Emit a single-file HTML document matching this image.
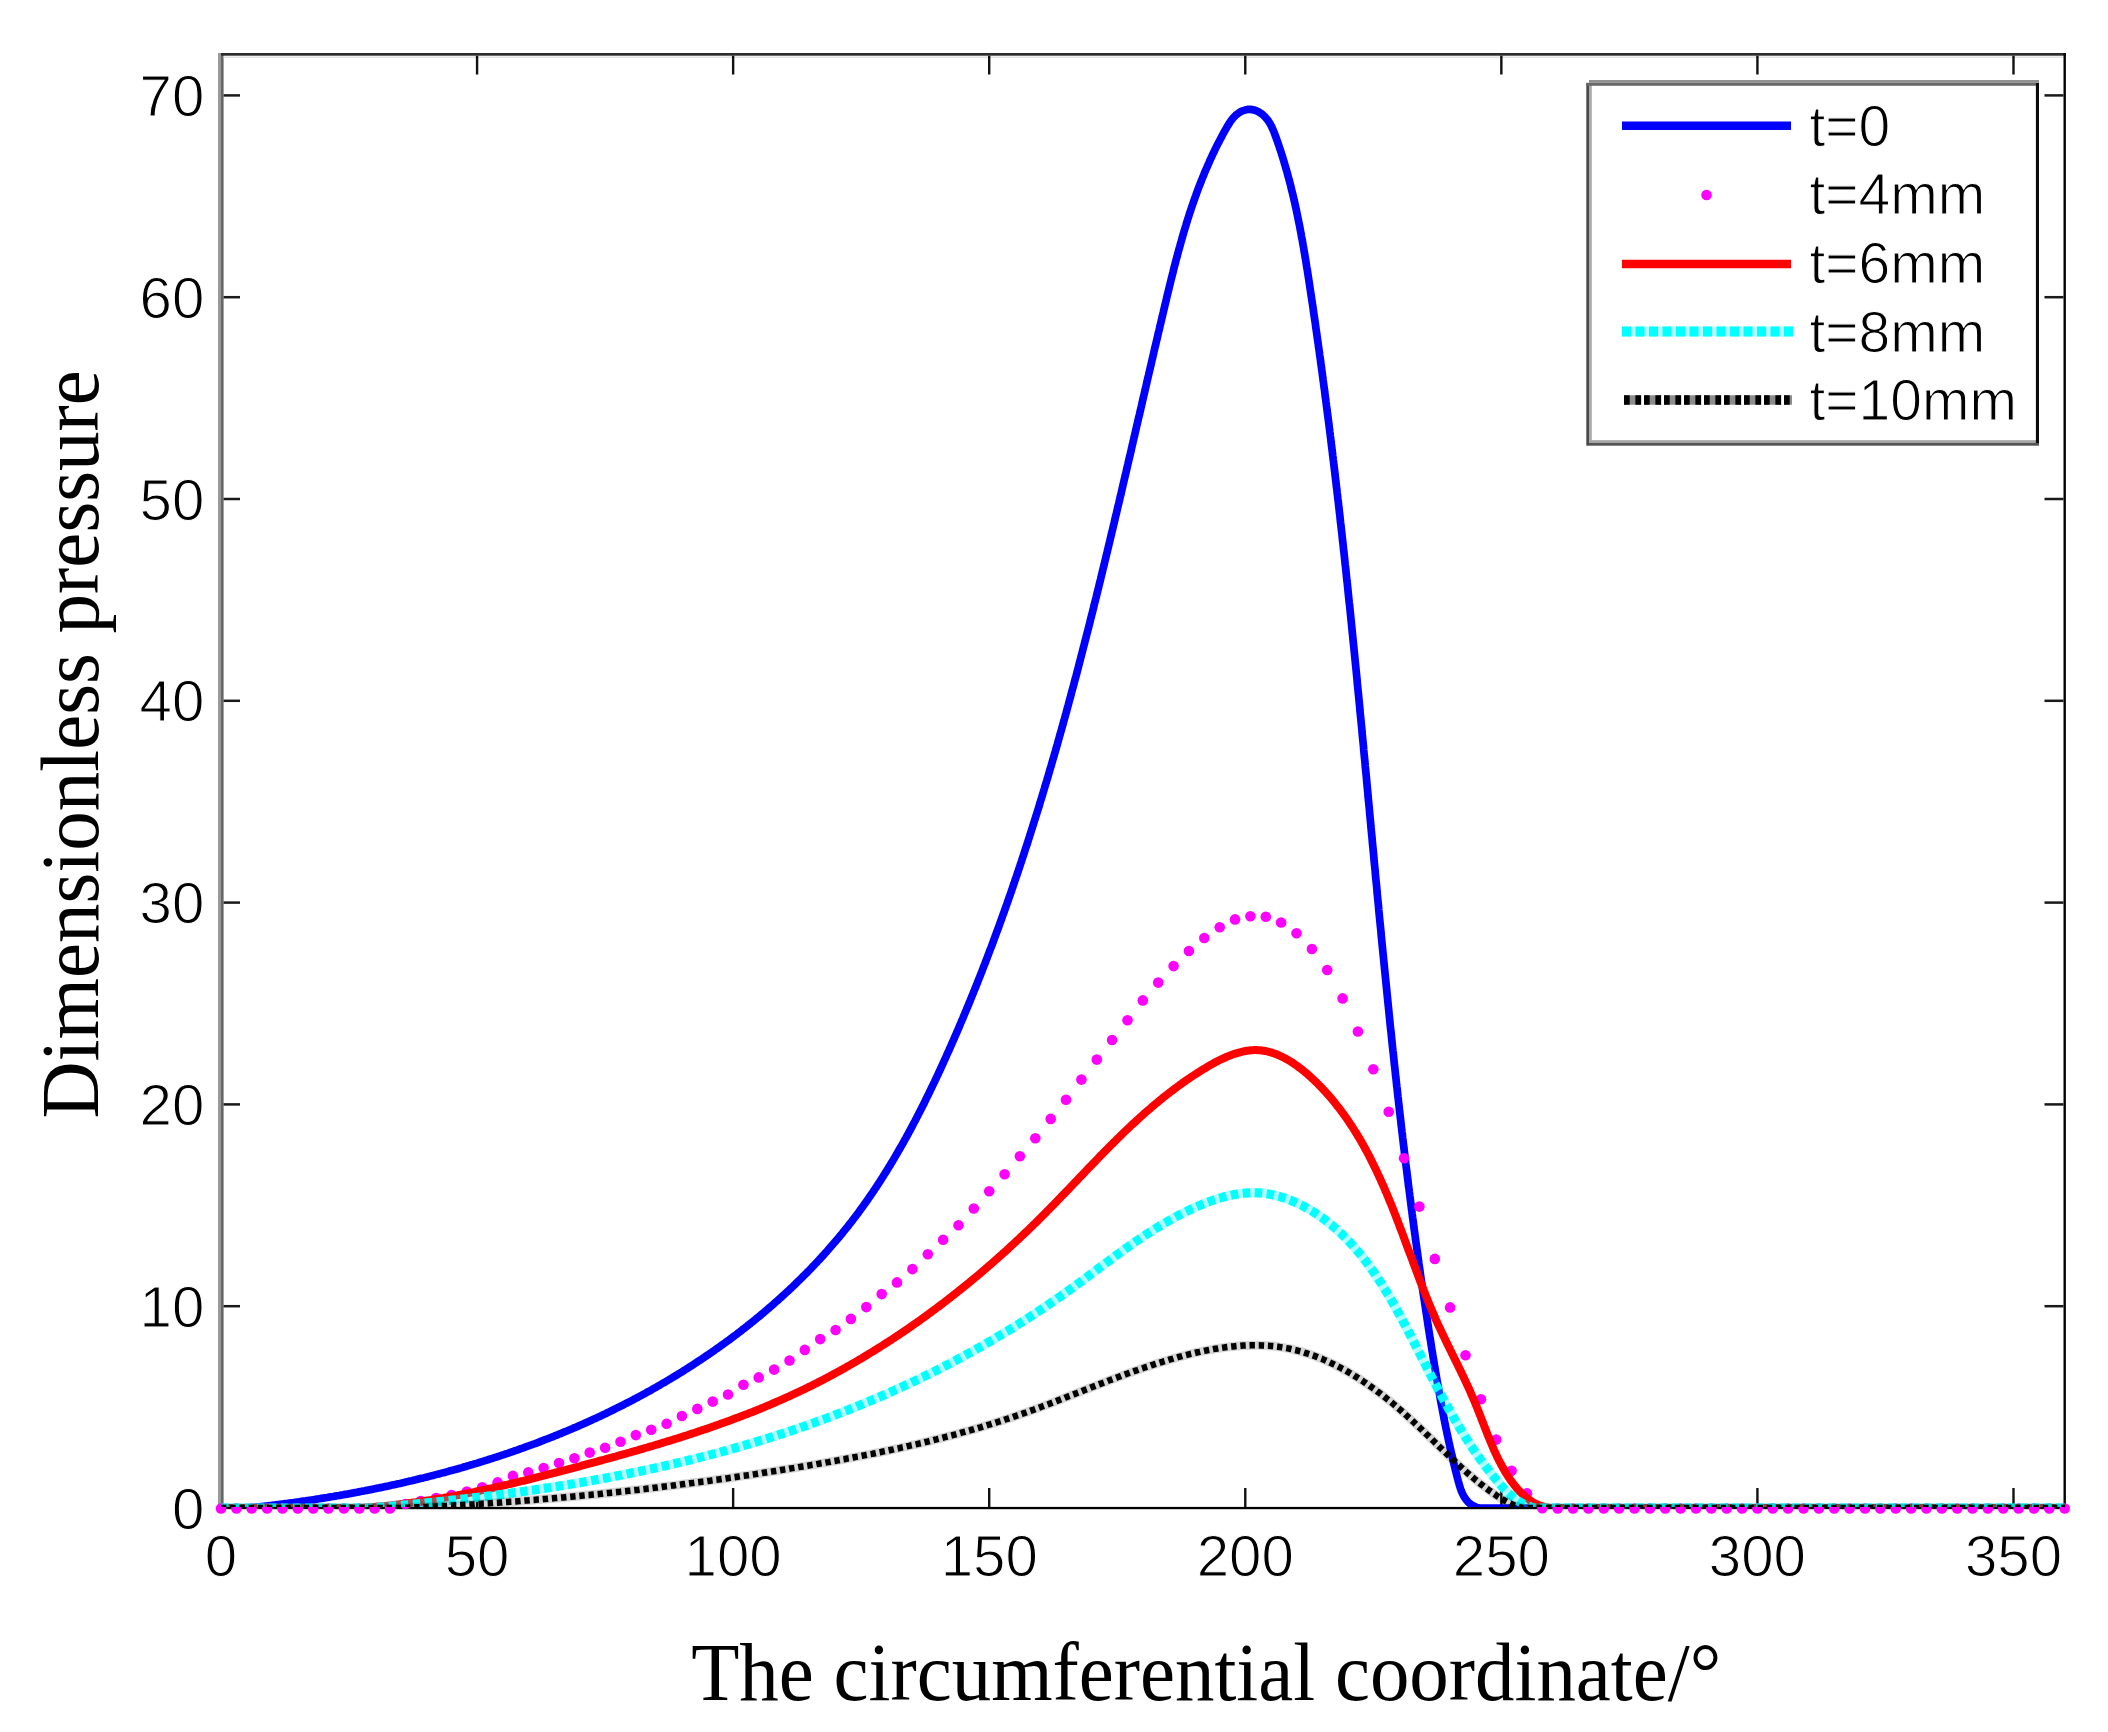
<!DOCTYPE html><html><head><meta charset="utf-8"><style>html,body{margin:0;padding:0;background:#fff;width:2108px;height:1732px;overflow:hidden}svg{display:block}.tk{font-family:"Liberation Sans",Arial,sans-serif;font-size:58.2px;fill:#000;stroke:#fff;stroke-width:1.1px}.lg{font-family:"Liberation Sans",Arial,sans-serif;font-size:57px;fill:#000;stroke:#fff;stroke-width:1.1px}.al{font-family:"Liberation Serif","Times New Roman",serif;font-size:82px;fill:#000}</style></head><body>
<svg xmlns="http://www.w3.org/2000/svg" width="2108" height="1732" viewBox="0 0 2108 1732">
<rect width="2108" height="1732" fill="#fff"/>
<rect x="218" y="53" width="3" height="1455.5" fill="#999"/>
<rect x="221" y="53" width="2.6" height="1455.5" fill="#666"/>
<rect x="221" y="53" width="1845" height="2.7" fill="#2c2c2c"/>
<rect x="223.6" y="56.5" width="1840" height="1.6" fill="#e2e2e2"/>
<rect x="2063.5" y="53" width="2.4" height="1455.5" fill="#000"/>
<rect x="221" y="1506.9" width="1845" height="2.3" fill="#000"/>
<rect x="475.87" y="1488" width="2.4" height="19" fill="#111"/>
<rect x="475.87" y="55.7" width="2.4" height="18.8" fill="#111"/>
<text class="tk" x="477.07" y="1576" text-anchor="middle">50</text>
<rect x="731.94" y="1488" width="2.4" height="19" fill="#111"/>
<rect x="731.94" y="55.7" width="2.4" height="18.8" fill="#111"/>
<text class="tk" x="733.14" y="1576" text-anchor="middle">100</text>
<rect x="988.01" y="1488" width="2.4" height="19" fill="#111"/>
<rect x="988.01" y="55.7" width="2.4" height="18.8" fill="#111"/>
<text class="tk" x="989.21" y="1576" text-anchor="middle">150</text>
<rect x="1244.08" y="1488" width="2.4" height="19" fill="#111"/>
<rect x="1244.08" y="55.7" width="2.4" height="18.8" fill="#111"/>
<text class="tk" x="1245.28" y="1576" text-anchor="middle">200</text>
<rect x="1500.15" y="1488" width="2.4" height="19" fill="#111"/>
<rect x="1500.15" y="55.7" width="2.4" height="18.8" fill="#111"/>
<text class="tk" x="1501.35" y="1576" text-anchor="middle">250</text>
<rect x="1756.22" y="1488" width="2.4" height="19" fill="#111"/>
<rect x="1756.22" y="55.7" width="2.4" height="18.8" fill="#111"/>
<text class="tk" x="1757.42" y="1576" text-anchor="middle">300</text>
<rect x="2012.29" y="1488" width="2.4" height="19" fill="#111"/>
<rect x="2012.29" y="55.7" width="2.4" height="18.8" fill="#111"/>
<text class="tk" x="2013.49" y="1576" text-anchor="middle">350</text>
<text class="tk" x="221.00" y="1576" text-anchor="middle">0</text>
<text class="tk" x="204.3" y="1528.60" text-anchor="end">0</text>
<rect x="223.6" y="1304.95" width="16.4" height="2.5" fill="#1a1a1a"/>
<rect x="2044.5" y="1304.95" width="19" height="2.5" fill="#1a1a1a"/>
<text class="tk" x="204.3" y="1326.80" text-anchor="end">10</text>
<rect x="223.6" y="1103.15" width="16.4" height="2.5" fill="#1a1a1a"/>
<rect x="2044.5" y="1103.15" width="19" height="2.5" fill="#1a1a1a"/>
<text class="tk" x="204.3" y="1125.00" text-anchor="end">20</text>
<rect x="223.6" y="901.35" width="16.4" height="2.5" fill="#1a1a1a"/>
<rect x="2044.5" y="901.35" width="19" height="2.5" fill="#1a1a1a"/>
<text class="tk" x="204.3" y="923.20" text-anchor="end">30</text>
<rect x="223.6" y="699.55" width="16.4" height="2.5" fill="#1a1a1a"/>
<rect x="2044.5" y="699.55" width="19" height="2.5" fill="#1a1a1a"/>
<text class="tk" x="204.3" y="721.40" text-anchor="end">40</text>
<rect x="223.6" y="497.75" width="16.4" height="2.5" fill="#1a1a1a"/>
<rect x="2044.5" y="497.75" width="19" height="2.5" fill="#1a1a1a"/>
<text class="tk" x="204.3" y="519.60" text-anchor="end">50</text>
<rect x="223.6" y="295.95" width="16.4" height="2.5" fill="#1a1a1a"/>
<rect x="2044.5" y="295.95" width="19" height="2.5" fill="#1a1a1a"/>
<text class="tk" x="204.3" y="317.80" text-anchor="end">60</text>
<rect x="223.6" y="94.15" width="16.4" height="2.5" fill="#1a1a1a"/>
<rect x="2044.5" y="94.15" width="19" height="2.5" fill="#1a1a1a"/>
<text class="tk" x="204.3" y="116.00" text-anchor="end">70</text>
<defs><clipPath id="ax"><rect x="221" y="55" width="1844" height="1452"/></clipPath></defs>
<g clip-path="url(#ax)" fill="none" stroke-linejoin="round">
<path d="M221.0,1508.0L250.0,1508.0L252.0,1507.8L254.0,1507.6L256.0,1507.3L258.0,1507.1L259.9,1506.9L261.9,1506.6L263.9,1506.4L265.9,1506.2L267.9,1505.9L269.9,1505.7L271.9,1505.4L273.8,1505.2L275.8,1504.9L277.8,1504.7L279.8,1504.4L281.8,1504.2L283.8,1503.9L285.8,1503.6L287.7,1503.4L289.7,1503.1L291.7,1502.8L293.7,1502.6L295.7,1502.3L297.7,1502.0L299.6,1501.7L301.6,1501.4L303.6,1501.1L305.6,1500.9L307.6,1500.6L309.6,1500.3L311.5,1500.0L313.5,1499.7L315.5,1499.4L317.5,1499.0L319.4,1498.7L321.4,1498.4L323.4,1498.1L325.4,1497.8L327.4,1497.5L329.3,1497.1L331.3,1496.8L333.3,1496.5L335.3,1496.1L337.2,1495.8L339.2,1495.5L341.2,1495.1L343.1,1494.8L345.1,1494.4L347.1,1494.1L349.1,1493.7L351.0,1493.4L353.0,1493.0L355.0,1492.6L356.9,1492.3L358.9,1491.9L360.9,1491.5L362.8,1491.1L364.8,1490.8L366.8,1490.4L368.7,1490.0L370.7,1489.6L372.7,1489.2L374.6,1488.8L376.6,1488.4L378.5,1488.0L380.5,1487.6L382.5,1487.2L384.4,1486.8L386.4,1486.4L388.3,1486.0L390.3,1485.5L392.2,1485.1L394.2,1484.7L396.1,1484.3L398.1,1483.8L400.0,1483.4L402.0,1482.9L403.9,1482.5L405.9,1482.0L407.8,1481.6L409.8,1481.1L411.7,1480.7L413.7,1480.2L415.6,1479.8L417.6,1479.3L419.5,1478.8L421.5,1478.3L423.4,1477.9L425.3,1477.4L427.3,1476.9L429.2,1476.4L431.1,1475.9L433.1,1475.4L435.0,1474.9L436.9,1474.4L438.9,1473.9L440.8,1473.4L442.7,1472.9L444.7,1472.4L446.6,1471.9L448.5,1471.3L450.5,1470.8L452.4,1470.3L454.3,1469.7L456.2,1469.2L458.1,1468.7L460.1,1468.1L462.0,1467.6L463.9,1467.0L465.8,1466.5L467.7,1465.9L469.6,1465.3L471.6,1464.8L473.5,1464.2L475.4,1463.6L477.3,1463.1L479.2,1462.5L481.1,1461.9L483.0,1461.3L484.9,1460.7L486.8,1460.1L488.7,1459.5L490.6,1458.9L492.5,1458.3L494.4,1457.7L496.3,1457.1L498.2,1456.5L500.1,1455.8L502.0,1455.2L503.9,1454.6L505.8,1453.9L507.7,1453.3L509.5,1452.7L511.4,1452.0L513.3,1451.4L515.2,1450.7L517.1,1450.1L519.0,1449.4L520.8,1448.7L522.7,1448.1L524.6,1447.4L526.5,1446.7L528.3,1446.0L530.2,1445.3L532.1,1444.7L533.9,1444.0L535.8,1443.3L537.7,1442.6L539.5,1441.9L541.4,1441.1L543.3,1440.4L545.1,1439.7L547.0,1439.0L548.8,1438.3L550.7,1437.5L552.5,1436.8L554.4,1436.1L556.2,1435.3L558.1,1434.6L559.9,1433.8L561.8,1433.1L563.6,1432.3L565.4,1431.5L567.3,1430.8L569.1,1430.0L571.0,1429.2L572.8,1428.4L574.6,1427.7L576.4,1426.9L578.3,1426.1L580.1,1425.3L581.9,1424.5L583.7,1423.7L585.6,1422.9L587.4,1422.1L589.2,1421.2L591.0,1420.4L592.8,1419.6L594.6,1418.8L596.5,1417.9L598.3,1417.1L600.1,1416.2L601.9,1415.4L603.7,1414.5L605.5,1413.7L607.3,1412.8L609.1,1411.9L610.9,1411.1L612.6,1410.2L614.4,1409.3L616.2,1408.4L618.0,1407.5L619.8,1406.6L621.6,1405.8L623.4,1404.8L625.1,1403.9L626.9,1403.0L628.7,1402.1L630.5,1401.2L632.2,1400.3L634.0,1399.3L635.8,1398.4L637.5,1397.5L639.3,1396.5L641.0,1395.6L642.8,1394.6L644.6,1393.7L646.3,1392.7L648.1,1391.7L649.8,1390.8L651.6,1389.8L653.3,1388.8L655.0,1387.8L656.8,1386.8L658.5,1385.8L660.3,1384.8L662.0,1383.8L663.7,1382.8L665.5,1381.8L667.2,1380.8L668.9,1379.8L670.6,1378.7L672.3,1377.7L674.1,1376.7L675.8,1375.6L677.5,1374.6L679.2,1373.5L680.9,1372.5L682.6,1371.4L684.3,1370.3L686.0,1369.3L687.7,1368.2L689.4,1367.1L691.1,1366.0L692.8,1364.9L694.5,1363.8L696.1,1362.7L697.8,1361.6L699.5,1360.5L701.2,1359.4L702.8,1358.3L704.5,1357.2L706.2,1356.0L707.8,1354.9L709.5,1353.8L711.2,1352.6L712.8,1351.5L714.5,1350.3L716.1,1349.2L717.8,1348.0L719.4,1346.9L721.0,1345.7L722.7,1344.5L724.3,1343.3L725.9,1342.2L727.5,1341.0L729.2,1339.8L730.8,1338.6L732.4,1337.4L734.0,1336.2L735.6,1335.0L737.2,1333.8L738.8,1332.5L740.4,1331.3L742.0,1330.1L743.6,1328.8L745.2,1327.6L746.7,1326.4L748.3,1325.1L749.9,1323.9L751.5,1322.6L753.0,1321.4L754.6,1320.1L756.1,1318.8L757.7,1317.5L759.3,1316.3L760.8,1315.0L762.3,1313.7L763.9,1312.4L765.4,1311.1L766.9,1309.8L768.5,1308.5L770.0,1307.2L771.5,1305.9L773.0,1304.6L774.5,1303.2L776.0,1301.9L777.5,1300.6L779.0,1299.2L780.5,1297.9L782.0,1296.5L783.5,1295.2L785.0,1293.8L786.4,1292.5L787.9,1291.1L789.4,1289.7L790.8,1288.4L792.3,1287.0L793.7,1285.6L795.2,1284.2L796.6,1282.8L798.0,1281.4L799.5,1280.0L800.9,1278.6L802.3,1277.2L803.7,1275.8L805.2,1274.4L806.6,1273.0L808.0,1271.5L809.4,1270.1L810.8,1268.7L812.1,1267.2L813.5,1265.8L814.9,1264.3L816.3,1262.9L817.6,1261.4L819.0,1260.0L820.4,1258.5L821.7,1257.0L823.1,1255.5L824.4,1254.1L825.7,1252.6L827.1,1251.1L828.4,1249.6L829.7,1248.1L831.0,1246.6L832.3,1245.1L833.6,1243.6L834.9,1242.1L836.2,1240.5L837.5,1239.0L838.8,1237.5L840.0,1236.0L841.3,1234.4L842.6,1232.9L843.8,1231.3L845.1,1229.8L846.3,1228.2L847.6,1226.7L848.8,1225.1L850.0,1223.5L851.3,1222.0L852.5,1220.4L853.7,1218.8L854.9,1217.2L856.1,1215.6L857.3,1214.1L858.5,1212.5L859.6,1210.9L860.8,1209.2L862.0,1207.6L863.2,1206.0L864.3,1204.4L865.5,1202.8L866.6,1201.2L867.8,1199.5L868.9,1197.9L870.0,1196.3L871.1,1194.6L872.3,1193.0L873.4,1191.3L874.5,1189.7L875.6,1188.0L876.7,1186.4L877.8,1184.7L878.9,1183.0L880.0,1181.4L881.0,1179.7L882.1,1178.0L883.2,1176.3L884.2,1174.6L885.3,1173.0L886.3,1171.3L887.4,1169.6L888.4,1167.9L889.5,1166.2L890.5,1164.5L891.5,1162.8L892.6,1161.1L893.6,1159.4L894.6,1157.6L895.6,1155.9L896.6,1154.2L897.6,1152.5L898.6,1150.7L899.6,1149.0L900.6,1147.3L901.6,1145.6L902.6,1143.8L903.6,1142.1L904.5,1140.3L905.5,1138.6L906.5,1136.8L907.4,1135.1L908.4,1133.3L909.3,1131.6L910.3,1129.8L911.2,1128.1L912.2,1126.3L913.1,1124.5L914.0,1122.8L915.0,1121.0L915.9,1119.2L916.8,1117.5L917.7,1115.7L918.6,1113.9L919.6,1112.1L920.5,1110.3L921.4,1108.6L922.3,1106.8L923.2,1105.0L924.1,1103.2L925.0,1101.4L925.8,1099.6L926.7,1097.8L927.6,1096.0L928.5,1094.2L929.4,1092.4L930.2,1090.6L931.1,1088.8L932.0,1087.0L932.8,1085.2L933.7,1083.4L934.6,1081.6L935.4,1079.8L936.3,1078.0L937.1,1076.2L938.0,1074.4L938.8,1072.5L939.7,1070.7L940.5,1068.9L941.3,1067.1L942.2,1065.3L943.0,1063.4L943.8,1061.6L944.7,1059.8L945.5,1058.0L946.3,1056.2L947.1,1054.3L947.9,1052.5L948.8,1050.7L949.6,1048.8L950.4,1047.0L951.2,1045.2L952.0,1043.4L952.8,1041.5L953.6,1039.7L954.4,1037.9L955.2,1036.0L956.0,1034.2L956.8,1032.4L957.6,1030.5L958.4,1028.7L959.2,1026.9L959.9,1025.0L960.7,1023.2L961.5,1021.3L962.3,1019.5L963.1,1017.7L963.8,1015.8L964.6,1014.0L965.4,1012.1L966.2,1010.3L966.9,1008.4L967.7,1006.6L968.5,1004.8L969.2,1002.9L970.0,1001.1L970.7,999.2L971.5,997.4L972.2,995.5L973.0,993.7L973.7,991.8L974.5,990.0L975.2,988.1L976.0,986.3L976.7,984.4L977.5,982.5L978.2,980.7L978.9,978.8L979.7,977.0L980.4,975.1L981.1,973.3L981.9,971.4L982.6,969.5L983.3,967.7L984.0,965.8L984.8,964.0L985.5,962.1L986.2,960.2L986.9,958.4L987.6,956.5L988.3,954.6L989.0,952.8L989.7,950.9L990.4,949.0L991.2,947.2L991.9,945.3L992.6,943.4L993.3,941.6L994.0,939.7L994.6,937.8L995.3,936.0L996.0,934.1L996.7,932.2L997.4,930.3L998.1,928.5L998.8,926.6L999.5,924.7L1000.1,922.8L1000.8,921.0L1001.5,919.1L1002.2,917.2L1002.8,915.3L1003.5,913.5L1004.2,911.6L1004.9,909.7L1005.5,907.8L1006.2,905.9L1006.9,904.1L1007.5,902.2L1008.2,900.3L1008.8,898.4L1009.5,896.5L1010.2,894.6L1010.8,892.8L1011.5,890.9L1012.1,889.0L1012.8,887.1L1013.4,885.2L1014.1,883.3L1014.7,881.4L1015.3,879.5L1016.0,877.7L1016.6,875.8L1017.3,873.9L1017.9,872.0L1018.5,870.1L1019.2,868.2L1019.8,866.3L1020.4,864.4L1021.1,862.5L1021.7,860.6L1022.3,858.7L1022.9,856.8L1023.6,854.9L1024.2,853.0L1024.8,851.1L1025.4,849.2L1026.0,847.3L1026.7,845.4L1027.3,843.5L1027.9,841.6L1028.5,839.7L1029.1,837.8L1029.7,835.9L1030.3,834.0L1030.9,832.1L1031.5,830.2L1032.1,828.3L1032.7,826.4L1033.3,824.5L1033.9,822.6L1034.5,820.7L1035.1,818.8L1035.7,816.9L1036.3,815.0L1036.9,813.1L1037.5,811.2L1038.1,809.3L1038.7,807.4L1039.3,805.5L1039.8,803.5L1040.4,801.6L1041.0,799.7L1041.6,797.8L1042.2,795.9L1042.7,794.0L1043.3,792.1L1043.9,790.2L1044.5,788.3L1045.0,786.3L1045.6,784.4L1046.2,782.5L1046.8,780.6L1047.3,778.7L1047.9,776.8L1048.5,774.9L1049.0,772.9L1049.6,771.0L1050.1,769.1L1050.7,767.2L1051.3,765.3L1051.8,763.3L1052.4,761.4L1052.9,759.5L1053.5,757.6L1054.1,755.7L1054.6,753.7L1055.2,751.8L1055.7,749.9L1056.3,748.0L1056.8,746.1L1057.4,744.1L1057.9,742.2L1058.4,740.3L1059.0,738.4L1059.5,736.4L1060.1,734.5L1060.6,732.6L1061.2,730.7L1061.7,728.7L1062.2,726.8L1062.8,724.9L1063.3,723.0L1063.8,721.0L1064.4,719.1L1064.9,717.2L1065.4,715.3L1066.0,713.3L1066.5,711.4L1067.0,709.5L1067.5,707.5L1068.1,705.6L1068.6,703.7L1069.1,701.8L1069.6,699.8L1070.2,697.9L1070.7,696.0L1071.2,694.0L1071.7,692.1L1072.2,690.2L1072.8,688.2L1073.3,686.3L1073.8,684.4L1074.3,682.4L1074.8,680.5L1075.3,678.6L1075.9,676.6L1076.4,674.7L1076.9,672.8L1077.4,670.8L1077.9,668.9L1078.4,667.0L1078.9,665.0L1079.4,663.1L1079.9,661.1L1080.4,659.2L1080.9,657.3L1081.4,655.3L1081.9,653.4L1082.4,651.5L1082.9,649.5L1083.4,647.6L1083.9,645.6L1084.4,643.7L1084.9,641.8L1085.4,639.8L1085.9,637.9L1086.4,635.9L1086.9,634.0L1087.4,632.1L1087.9,630.1L1088.4,628.2L1088.9,626.2L1089.4,624.3L1089.9,622.4L1090.3,620.4L1090.8,618.5L1091.3,616.5L1091.8,614.6L1092.3,612.7L1092.8,610.7L1093.3,608.8L1093.8,606.8L1094.2,604.9L1094.7,602.9L1095.2,601.0L1095.7,599.1L1096.2,597.1L1096.6,595.2L1097.1,593.2L1097.6,591.3L1098.1,589.3L1098.6,587.4L1099.0,585.4L1099.5,583.5L1100.0,581.6L1100.5,579.6L1100.9,577.7L1101.4,575.7L1101.9,573.8L1102.4,571.8L1102.8,569.9L1103.3,567.9L1103.8,566.0L1104.3,564.0L1104.7,562.1L1105.2,560.1L1105.7,558.2L1106.1,556.2L1106.6,554.3L1107.1,552.4L1107.5,550.4L1108.0,548.5L1108.5,546.5L1108.9,544.6L1109.4,542.6L1109.9,540.7L1110.3,538.7L1110.8,536.8L1111.3,534.8L1111.7,532.9L1112.2,530.9L1112.7,529.0L1113.1,527.0L1113.6,525.1L1114.1,523.1L1114.5,521.2L1115.0,519.2L1115.4,517.3L1115.9,515.3L1116.4,513.4L1116.8,511.4L1117.3,509.5L1117.7,507.5L1118.2,505.6L1118.7,503.6L1119.1,501.7L1119.6,499.7L1120.0,497.8L1120.5,495.8L1121.0,493.9L1121.4,491.9L1121.9,490.0L1122.3,488.0L1122.8,486.1L1123.2,484.1L1123.7,482.2L1124.1,480.2L1124.6,478.3L1125.1,476.3L1125.5,474.4L1126.0,472.4L1126.4,470.5L1126.9,468.5L1127.3,466.6L1127.8,464.6L1128.2,462.7L1128.7,460.7L1129.1,458.8L1129.6,456.8L1130.1,454.9L1130.5,452.9L1131.0,451.0L1131.4,449.0L1131.9,447.1L1132.3,445.1L1132.8,443.2L1133.2,441.2L1133.7,439.3L1134.1,437.3L1134.6,435.4L1135.0,433.4L1135.5,431.5L1135.9,429.5L1136.4,427.6L1136.8,425.6L1137.3,423.7L1137.7,421.7L1138.2,419.8L1138.6,417.8L1139.1,415.9L1139.6,413.9L1140.0,412.0L1140.5,410.0L1140.9,408.1L1141.4,406.1L1141.8,404.2L1142.3,402.2L1142.7,400.3L1143.2,398.3L1143.6,396.4L1144.1,394.4L1144.5,392.5L1145.0,390.5L1145.4,388.6L1145.9,386.6L1146.3,384.7L1146.8,382.7L1147.2,380.8L1147.7,378.8L1148.1,376.9L1148.6,374.9L1149.0,373.0L1149.5,371.0L1150.0,369.1L1150.4,367.1L1150.9,365.2L1151.3,363.2L1151.8,361.3L1152.2,359.3L1152.7,357.4L1153.1,355.4L1153.6,353.5L1154.0,351.5L1154.5,349.6L1154.9,347.6L1155.4,345.7L1155.9,343.8L1156.3,341.8L1156.8,339.9L1157.2,337.9L1157.7,336.0L1158.1,334.0L1158.6,332.1L1159.1,330.1L1159.5,328.2L1160.0,326.2L1160.4,324.3L1160.9,322.4L1161.3,320.4L1161.8,318.5L1162.3,316.5L1162.7,314.6L1163.2,312.6L1163.6,310.7L1164.1,308.7L1164.6,306.8L1165.0,304.9L1165.5,302.9L1166.0,301.0L1166.4,299.0L1166.9,297.1L1167.3,295.1L1167.8,293.2L1168.3,291.3L1168.8,289.3L1169.2,287.4L1169.7,285.4L1170.2,283.5L1170.6,281.6L1171.1,279.6L1171.6,277.7L1172.1,275.8L1172.6,273.8L1173.1,271.9L1173.5,270.0L1174.0,268.0L1174.5,266.1L1175.0,264.2L1175.5,262.2L1176.0,260.3L1176.5,258.4L1177.1,256.5L1177.6,254.5L1178.1,252.6L1178.6,250.7L1179.1,248.8L1179.7,246.8L1180.2,244.9L1180.7,243.0L1181.3,241.1L1181.8,239.2L1182.4,237.2L1182.9,235.3L1183.5,233.4L1184.0,231.5L1184.6,229.6L1185.2,227.7L1185.8,225.8L1186.3,223.9L1186.9,222.0L1187.5,220.1L1188.1,218.2L1188.7,216.3L1189.3,214.4L1189.9,212.5L1190.6,210.6L1191.2,208.7L1191.8,206.8L1192.5,204.9L1193.1,203.1L1193.8,201.2L1194.4,199.3L1195.1,197.4L1195.8,195.5L1196.4,193.7L1197.1,191.8L1197.8,189.9L1198.5,188.1L1199.2,186.2L1200.0,184.3L1200.7,182.5L1201.4,180.6L1202.2,178.7L1202.9,176.9L1203.7,175.0L1204.4,173.2L1205.2,171.3L1206.0,169.5L1206.8,167.7L1207.6,165.8L1208.4,164.0L1209.2,162.2L1210.0,160.3L1210.8,158.5L1211.7,156.7L1212.5,154.8L1213.4,153.0L1214.3,151.2L1215.1,149.4L1216.0,147.6L1216.9,145.8L1217.8,144.0L1218.8,142.2L1219.7,140.4L1220.6,138.6L1221.6,136.8L1222.5,135.0L1223.5,133.2L1224.5,131.4L1225.5,129.6L1226.5,127.9L1227.5,126.1L1228.6,124.4L1229.7,122.7L1230.8,121.0L1232.0,119.4L1233.2,117.9L1234.5,116.5L1235.9,115.1L1237.4,113.9L1239.0,112.8L1240.6,111.8L1242.4,110.9L1244.3,110.3L1246.2,109.7L1248.2,109.4L1250.2,109.4L1252.1,109.6L1254.1,110.0L1255.9,110.6L1257.7,111.4L1259.5,112.4L1261.2,113.5L1262.8,114.8L1264.3,116.2L1265.7,117.7L1267.0,119.2L1268.3,120.9L1269.4,122.6L1270.4,124.3L1271.3,126.0L1272.2,127.9L1273.0,129.7L1273.8,131.5L1274.5,133.4L1275.2,135.3L1275.9,137.2L1276.6,139.1L1277.3,141.0L1277.9,142.9L1278.6,144.8L1279.2,146.7L1279.8,148.6L1280.5,150.5L1281.1,152.4L1281.7,154.3L1282.3,156.2L1282.9,158.2L1283.5,160.1L1284.1,162.0L1284.6,163.9L1285.2,165.8L1285.8,167.8L1286.3,169.7L1286.9,171.6L1287.4,173.5L1287.9,175.5L1288.4,177.4L1289.0,179.3L1289.5,181.3L1290.0,183.2L1290.5,185.1L1291.0,187.1L1291.4,189.0L1291.9,190.9L1292.4,192.9L1292.9,194.8L1293.3,196.8L1293.8,198.7L1294.2,200.7L1294.7,202.6L1295.1,204.6L1295.5,206.5L1296.0,208.5L1296.4,210.4L1296.8,212.4L1297.2,214.3L1297.6,216.3L1298.0,218.2L1298.4,220.2L1298.8,222.2L1299.2,224.1L1299.6,226.1L1300.0,228.1L1300.3,230.0L1300.7,232.0L1301.1,233.9L1301.4,235.9L1301.8,237.9L1302.2,239.8L1302.5,241.8L1302.9,243.8L1303.2,245.7L1303.6,247.7L1303.9,249.7L1304.2,251.7L1304.6,253.6L1304.9,255.6L1305.2,257.6L1305.6,259.5L1305.9,261.5L1306.2,263.5L1306.5,265.5L1306.8,267.4L1307.2,269.4L1307.5,271.4L1307.8,273.4L1308.1,275.3L1308.4,277.3L1308.7,279.3L1309.0,281.3L1309.3,283.3L1309.6,285.2L1309.9,287.2L1310.2,289.2L1310.5,291.2L1310.8,293.1L1311.1,295.1L1311.4,297.1L1311.7,299.1L1312.0,301.1L1312.3,303.0L1312.6,305.0L1312.9,307.0L1313.2,309.0L1313.4,310.9L1313.7,312.9L1314.0,314.9L1314.3,316.9L1314.6,318.9L1314.9,320.8L1315.2,322.8L1315.5,324.8L1315.7,326.8L1316.0,328.8L1316.3,330.7L1316.6,332.7L1316.9,334.7L1317.1,336.7L1317.4,338.6L1317.7,340.6L1318.0,342.6L1318.3,344.6L1318.5,346.6L1318.8,348.5L1319.1,350.5L1319.4,352.5L1319.6,354.5L1319.9,356.5L1320.2,358.4L1320.5,360.4L1320.7,362.4L1321.0,364.4L1321.3,366.4L1321.5,368.3L1321.8,370.3L1322.1,372.3L1322.3,374.3L1322.6,376.3L1322.9,378.2L1323.1,380.2L1323.4,382.2L1323.7,384.2L1323.9,386.2L1324.2,388.1L1324.5,390.1L1324.7,392.1L1325.0,394.1L1325.2,396.1L1325.5,398.1L1325.8,400.0L1326.0,402.0L1326.3,404.0L1326.5,406.0L1326.8,408.0L1327.0,409.9L1327.3,411.9L1327.5,413.9L1327.8,415.9L1328.1,417.9L1328.3,419.8L1328.6,421.8L1328.8,423.8L1329.1,425.8L1329.3,427.8L1329.6,429.8L1329.8,431.7L1330.1,433.7L1330.3,435.7L1330.6,437.7L1330.8,439.7L1331.0,441.6L1331.3,443.6L1331.5,445.6L1331.8,447.6L1332.0,449.6L1332.3,451.6L1332.5,453.5L1332.7,455.5L1333.0,457.5L1333.2,459.5L1333.5,461.5L1333.7,463.5L1333.9,465.4L1334.2,467.4L1334.4,469.4L1334.7,471.4L1334.9,473.4L1335.1,475.4L1335.4,477.3L1335.6,479.3L1335.8,481.3L1336.1,483.3L1336.3,485.3L1336.5,487.3L1336.8,489.2L1337.0,491.2L1337.2,493.2L1337.5,495.2L1337.7,497.2L1337.9,499.2L1338.2,501.2L1338.4,503.1L1338.6,505.1L1338.8,507.1L1339.1,509.1L1339.3,511.1L1339.5,513.1L1339.8,515.0L1340.0,517.0L1340.2,519.0L1340.4,521.0L1340.6,523.0L1340.9,525.0L1341.1,527.0L1341.3,528.9L1341.5,530.9L1341.8,532.9L1342.0,534.9L1342.2,536.9L1342.4,538.9L1342.6,540.9L1342.9,542.8L1343.1,544.8L1343.3,546.8L1343.5,548.8L1343.7,550.8L1344.0,552.8L1344.2,554.8L1344.4,556.7L1344.6,558.7L1344.8,560.7L1345.0,562.7L1345.2,564.7L1345.5,566.7L1345.7,568.7L1345.9,570.7L1346.1,572.6L1346.3,574.6L1346.5,576.6L1346.7,578.6L1346.9,580.6L1347.2,582.6L1347.4,584.6L1347.6,586.6L1347.8,588.5L1348.0,590.5L1348.2,592.5L1348.4,594.5L1348.6,596.5L1348.8,598.5L1349.0,600.5L1349.2,602.5L1349.5,604.5L1349.7,606.4L1349.9,608.4L1350.1,610.4L1350.3,612.4L1350.5,614.4L1350.7,616.4L1350.9,618.4L1351.1,620.4L1351.3,622.4L1351.5,624.3L1351.7,626.3L1351.9,628.3L1352.1,630.3L1352.3,632.3L1352.5,634.3L1352.7,636.3L1352.9,638.3L1353.1,640.3L1353.3,642.3L1353.5,644.2L1353.7,646.2L1353.9,648.2L1354.1,650.2L1354.3,652.2L1354.5,654.2L1354.7,656.2L1354.9,658.2L1355.1,660.2L1355.3,662.2L1355.5,664.1L1355.7,666.1L1355.9,668.1L1356.1,670.1L1356.3,672.1L1356.5,674.1L1356.7,676.1L1356.9,678.1L1357.1,680.1L1357.2,682.1L1357.4,684.1L1357.6,686.1L1357.8,688.0L1358.0,690.0L1358.2,692.0L1358.4,694.0L1358.6,696.0L1358.8,698.0L1359.0,700.0L1359.2,702.0L1359.4,704.0L1359.6,706.0L1359.8,708.0L1359.9,710.0L1360.1,712.0L1360.3,713.9L1360.5,715.9L1360.7,717.9L1360.9,719.9L1361.1,721.9L1361.3,723.9L1361.5,725.9L1361.7,727.9L1361.9,729.9L1362.0,731.9L1362.2,733.9L1362.4,735.9L1362.6,737.9L1362.8,739.8L1363.0,741.8L1363.2,743.8L1363.4,745.8L1363.6,747.8L1363.7,749.8L1363.9,751.8L1364.1,753.8L1364.3,755.8L1364.5,757.8L1364.7,759.8L1364.9,761.8L1365.1,763.8L1365.2,765.8L1365.4,767.8L1365.6,769.7L1365.8,771.7L1366.0,773.7L1366.2,775.7L1366.4,777.7L1366.6,779.7L1366.7,781.7L1366.9,783.7L1367.1,785.7L1367.3,787.7L1367.5,789.7L1367.7,791.7L1367.9,793.7L1368.0,795.7L1368.2,797.7L1368.4,799.7L1368.6,801.6L1368.8,803.6L1369.0,805.6L1369.2,807.6L1369.4,809.6L1369.5,811.6L1369.7,813.6L1369.9,815.6L1370.1,817.6L1370.3,819.6L1370.5,821.6L1370.7,823.6L1370.8,825.6L1371.0,827.6L1371.2,829.6L1371.4,831.6L1371.6,833.6L1371.8,835.5L1372.0,837.5L1372.2,839.5L1372.3,841.5L1372.5,843.5L1372.7,845.5L1372.9,847.5L1373.1,849.5L1373.3,851.5L1373.5,853.5L1373.7,855.5L1373.8,857.5L1374.0,859.5L1374.2,861.5L1374.4,863.5L1374.6,865.5L1374.8,867.4L1375.0,869.4L1375.2,871.4L1375.3,873.4L1375.5,875.4L1375.7,877.4L1375.9,879.4L1376.1,881.4L1376.3,883.4L1376.5,885.4L1376.7,887.4L1376.9,889.4L1377.0,891.4L1377.2,893.4L1377.4,895.4L1377.6,897.4L1377.8,899.3L1378.0,901.3L1378.2,903.3L1378.4,905.3L1378.6,907.3L1378.7,909.3L1378.9,911.3L1379.1,913.3L1379.3,915.3L1379.5,917.3L1379.7,919.3L1379.9,921.3L1380.1,923.3L1380.3,925.3L1380.5,927.3L1380.7,929.2L1380.9,931.2L1381.1,933.2L1381.2,935.2L1381.4,937.2L1381.6,939.2L1381.8,941.2L1382.0,943.2L1382.2,945.2L1382.4,947.2L1382.6,949.2L1382.8,951.2L1383.0,953.2L1383.2,955.2L1383.4,957.1L1383.6,959.1L1383.8,961.1L1384.0,963.1L1384.2,965.1L1384.4,967.1L1384.6,969.1L1384.8,971.1L1385.0,973.1L1385.2,975.1L1385.4,977.1L1385.6,979.1L1385.8,981.1L1386.0,983.0L1386.2,985.0L1386.4,987.0L1386.6,989.0L1386.8,991.0L1387.0,993.0L1387.2,995.0L1387.4,997.0L1387.6,999.0L1387.8,1001.0L1388.0,1003.0L1388.2,1005.0L1388.4,1006.9L1388.6,1008.9L1388.8,1010.9L1389.0,1012.9L1389.2,1014.9L1389.4,1016.9L1389.6,1018.9L1389.8,1020.9L1390.0,1022.9L1390.2,1024.9L1390.4,1026.9L1390.6,1028.8L1390.8,1030.8L1391.1,1032.8L1391.3,1034.8L1391.5,1036.8L1391.7,1038.8L1391.9,1040.8L1392.1,1042.8L1392.3,1044.8L1392.5,1046.8L1392.7,1048.7L1392.9,1050.7L1393.2,1052.7L1393.4,1054.7L1393.6,1056.7L1393.8,1058.7L1394.0,1060.7L1394.2,1062.7L1394.4,1064.7L1394.7,1066.6L1394.9,1068.6L1395.1,1070.6L1395.3,1072.6L1395.5,1074.6L1395.7,1076.6L1396.0,1078.6L1396.2,1080.6L1396.4,1082.6L1396.6,1084.5L1396.8,1086.5L1397.1,1088.5L1397.3,1090.5L1397.5,1092.5L1397.7,1094.5L1397.9,1096.5L1398.2,1098.5L1398.4,1100.4L1398.6,1102.4L1398.8,1104.4L1399.1,1106.4L1399.3,1108.4L1399.5,1110.4L1399.7,1112.4L1400.0,1114.4L1400.2,1116.3L1400.4,1118.3L1400.7,1120.3L1400.9,1122.3L1401.1,1124.3L1401.3,1126.3L1401.6,1128.3L1401.8,1130.2L1402.0,1132.2L1402.3,1134.2L1402.5,1136.2L1402.7,1138.2L1403.0,1140.2L1403.2,1142.2L1403.4,1144.1L1403.7,1146.1L1403.9,1148.1L1404.2,1150.1L1404.4,1152.1L1404.6,1154.1L1404.9,1156.0L1405.1,1158.0L1405.4,1160.0L1405.6,1162.0L1405.8,1164.0L1406.1,1166.0L1406.3,1167.9L1406.6,1169.9L1406.8,1171.9L1407.1,1173.9L1407.3,1175.9L1407.6,1177.9L1407.8,1179.8L1408.1,1181.8L1408.3,1183.8L1408.5,1185.8L1408.8,1187.8L1409.1,1189.8L1409.3,1191.7L1409.6,1193.7L1409.8,1195.7L1410.1,1197.7L1410.3,1199.7L1410.6,1201.6L1410.8,1203.6L1411.1,1205.6L1411.3,1207.6L1411.6,1209.6L1411.9,1211.5L1412.1,1213.5L1412.4,1215.5L1412.6,1217.5L1412.9,1219.5L1413.2,1221.4L1413.4,1223.4L1413.7,1225.4L1413.9,1227.4L1414.2,1229.4L1414.5,1231.3L1414.7,1233.3L1415.0,1235.3L1415.3,1237.3L1415.5,1239.3L1415.8,1241.2L1416.1,1243.2L1416.4,1245.2L1416.6,1247.2L1416.9,1249.1L1417.2,1251.1L1417.5,1253.1L1417.7,1255.1L1418.0,1257.1L1418.3,1259.0L1418.6,1261.0L1418.8,1263.0L1419.1,1265.0L1419.4,1266.9L1419.7,1268.9L1420.0,1270.9L1420.2,1272.9L1420.5,1274.8L1420.8,1276.8L1421.1,1278.8L1421.4,1280.8L1421.7,1282.7L1422.0,1284.7L1422.2,1286.7L1422.5,1288.7L1422.8,1290.6L1423.1,1292.6L1423.4,1294.6L1423.7,1296.6L1424.0,1298.5L1424.3,1300.5L1424.6,1302.5L1424.9,1304.4L1425.2,1306.4L1425.5,1308.4L1425.8,1310.4L1426.1,1312.3L1426.4,1314.3L1426.7,1316.3L1427.0,1318.3L1427.3,1320.2L1427.6,1322.2L1427.9,1324.2L1428.2,1326.1L1428.5,1328.1L1428.8,1330.1L1429.1,1332.0L1429.4,1334.0L1429.7,1336.0L1430.0,1338.0L1430.4,1339.9L1430.7,1341.9L1431.0,1343.9L1431.3,1345.8L1431.6,1347.8L1431.9,1349.8L1432.3,1351.7L1432.6,1353.7L1432.9,1355.7L1433.2,1357.6L1433.5,1359.6L1433.9,1361.6L1434.2,1363.5L1434.5,1365.5L1434.8,1367.5L1435.2,1369.4L1435.5,1371.4L1435.8,1373.4L1436.2,1375.3L1436.5,1377.3L1436.8,1379.3L1437.2,1381.2L1437.5,1383.2L1437.9,1385.2L1438.2,1387.1L1438.6,1389.1L1438.9,1391.1L1439.3,1393.0L1439.6,1395.0L1440.0,1397.0L1440.3,1398.9L1440.7,1400.9L1441.0,1402.8L1441.4,1404.8L1441.8,1406.8L1442.2,1408.7L1442.5,1410.7L1442.9,1412.7L1443.3,1414.6L1443.7,1416.6L1444.0,1418.6L1444.4,1420.5L1444.8,1422.5L1445.2,1424.4L1445.6,1426.4L1446.0,1428.4L1446.4,1430.3L1446.8,1432.3L1447.2,1434.3L1447.7,1436.2L1448.1,1438.2L1448.5,1440.1L1448.9,1442.1L1449.4,1444.1L1449.8,1446.0L1450.2,1448.0L1450.7,1449.9L1451.1,1451.9L1451.6,1453.9L1452.0,1455.8L1452.5,1457.8L1452.9,1459.8L1453.4,1461.7L1453.9,1463.7L1454.3,1465.6L1454.8,1467.6L1455.3,1469.6L1455.8,1471.5L1456.3,1473.5L1456.8,1475.4L1457.3,1477.4L1457.8,1479.4L1458.3,1481.3L1458.9,1483.3L1459.4,1485.2L1460.0,1487.1L1460.6,1489.0L1461.3,1490.9L1462.1,1492.7L1462.9,1494.4L1463.8,1496.2L1464.8,1497.8L1465.9,1499.4L1467.1,1500.9L1468.4,1502.3L1469.9,1503.6L1471.5,1504.8L1473.1,1505.8L1474.9,1506.7L1476.7,1507.4L1478.7,1507.9L1480.7,1508.2L1482.8,1508.2L1485.0,1508.0L2070.0,1508.0" stroke="#00f" stroke-width="7.7"/>
</g>
<g fill="#f0f">
<circle cx="221.0" cy="1508.5" r="5.3"/>
<circle cx="236.4" cy="1508.5" r="5.3"/>
<circle cx="251.7" cy="1508.5" r="5.3"/>
<circle cx="267.1" cy="1508.5" r="5.3"/>
<circle cx="282.5" cy="1508.5" r="5.3"/>
<circle cx="297.8" cy="1508.5" r="5.3"/>
<circle cx="313.2" cy="1508.5" r="5.3"/>
<circle cx="328.5" cy="1508.5" r="5.3"/>
<circle cx="343.9" cy="1508.5" r="5.3"/>
<circle cx="359.3" cy="1508.5" r="5.3"/>
<circle cx="374.6" cy="1508.5" r="5.3"/>
<circle cx="390.0" cy="1508.5" r="5.3"/>
<circle cx="405.4" cy="1504.0" r="5.3"/>
<circle cx="420.7" cy="1501.0" r="5.3"/>
<circle cx="436.1" cy="1498.0" r="5.3"/>
<circle cx="451.5" cy="1495.0" r="5.3"/>
<circle cx="466.8" cy="1491.5" r="5.3"/>
<circle cx="482.2" cy="1487.3" r="5.3"/>
<circle cx="497.6" cy="1482.4" r="5.3"/>
<circle cx="512.9" cy="1475.9" r="5.3"/>
<circle cx="528.3" cy="1472.4" r="5.3"/>
<circle cx="543.6" cy="1468.0" r="5.3"/>
<circle cx="559.0" cy="1463.0" r="5.3"/>
<circle cx="574.4" cy="1458.2" r="5.3"/>
<circle cx="589.7" cy="1452.6" r="5.3"/>
<circle cx="605.1" cy="1447.8" r="5.3"/>
<circle cx="620.5" cy="1441.8" r="5.3"/>
<circle cx="635.8" cy="1435.1" r="5.3"/>
<circle cx="651.2" cy="1429.8" r="5.3"/>
<circle cx="666.6" cy="1423.8" r="5.3"/>
<circle cx="681.9" cy="1416.0" r="5.3"/>
<circle cx="697.3" cy="1408.9" r="5.3"/>
<circle cx="712.7" cy="1401.6" r="5.3"/>
<circle cx="728.0" cy="1394.5" r="5.3"/>
<circle cx="743.4" cy="1384.8" r="5.3"/>
<circle cx="758.7" cy="1377.4" r="5.3"/>
<circle cx="774.1" cy="1369.6" r="5.3"/>
<circle cx="789.5" cy="1360.5" r="5.3"/>
<circle cx="804.8" cy="1349.9" r="5.3"/>
<circle cx="820.2" cy="1339.1" r="5.3"/>
<circle cx="835.6" cy="1330.0" r="5.3"/>
<circle cx="850.9" cy="1318.9" r="5.3"/>
<circle cx="866.3" cy="1307.1" r="5.3"/>
<circle cx="881.7" cy="1294.1" r="5.3"/>
<circle cx="897.0" cy="1282.4" r="5.3"/>
<circle cx="912.4" cy="1269.1" r="5.3"/>
<circle cx="927.8" cy="1254.2" r="5.3"/>
<circle cx="943.1" cy="1239.7" r="5.3"/>
<circle cx="958.5" cy="1225.2" r="5.3"/>
<circle cx="973.8" cy="1208.5" r="5.3"/>
<circle cx="989.2" cy="1191.3" r="5.3"/>
<circle cx="1004.6" cy="1174.3" r="5.3"/>
<circle cx="1019.9" cy="1156.3" r="5.3"/>
<circle cx="1035.3" cy="1138.2" r="5.3"/>
<circle cx="1050.7" cy="1118.9" r="5.3"/>
<circle cx="1066.0" cy="1099.7" r="5.3"/>
<circle cx="1081.4" cy="1079.6" r="5.3"/>
<circle cx="1096.8" cy="1059.6" r="5.3"/>
<circle cx="1112.1" cy="1040.0" r="5.3"/>
<circle cx="1127.5" cy="1020.2" r="5.3"/>
<circle cx="1142.8" cy="1000.4" r="5.3"/>
<circle cx="1158.2" cy="982.6" r="5.3"/>
<circle cx="1173.6" cy="966.1" r="5.3"/>
<circle cx="1188.9" cy="951.0" r="5.3"/>
<circle cx="1204.3" cy="938.0" r="5.3"/>
<circle cx="1219.7" cy="927.3" r="5.3"/>
<circle cx="1235.0" cy="919.4" r="5.3"/>
<circle cx="1250.4" cy="916.3" r="5.3"/>
<circle cx="1265.8" cy="916.8" r="5.3"/>
<circle cx="1281.1" cy="922.5" r="5.3"/>
<circle cx="1296.5" cy="933.2" r="5.3"/>
<circle cx="1311.9" cy="949.0" r="5.3"/>
<circle cx="1327.2" cy="970.0" r="5.3"/>
<circle cx="1342.6" cy="998.4" r="5.3"/>
<circle cx="1357.9" cy="1031.5" r="5.3"/>
<circle cx="1373.3" cy="1069.2" r="5.3"/>
<circle cx="1388.7" cy="1111.7" r="5.3"/>
<circle cx="1404.0" cy="1158.2" r="5.3"/>
<circle cx="1419.4" cy="1206.6" r="5.3"/>
<circle cx="1434.8" cy="1258.9" r="5.3"/>
<circle cx="1450.1" cy="1307.4" r="5.3"/>
<circle cx="1465.5" cy="1355.2" r="5.3"/>
<circle cx="1480.9" cy="1399.3" r="5.3"/>
<circle cx="1496.2" cy="1439.6" r="5.3"/>
<circle cx="1511.6" cy="1470.8" r="5.3"/>
<circle cx="1527.0" cy="1493.4" r="5.3"/>
<circle cx="1542.3" cy="1508.3" r="5.3"/>
<circle cx="1557.7" cy="1508.5" r="5.3"/>
<circle cx="1573.0" cy="1508.5" r="5.3"/>
<circle cx="1588.4" cy="1508.5" r="5.3"/>
<circle cx="1603.8" cy="1508.5" r="5.3"/>
<circle cx="1619.1" cy="1508.5" r="5.3"/>
<circle cx="1634.5" cy="1508.5" r="5.3"/>
<circle cx="1649.9" cy="1508.5" r="5.3"/>
<circle cx="1665.2" cy="1508.5" r="5.3"/>
<circle cx="1680.6" cy="1508.5" r="5.3"/>
<circle cx="1696.0" cy="1508.5" r="5.3"/>
<circle cx="1711.3" cy="1508.5" r="5.3"/>
<circle cx="1726.7" cy="1508.5" r="5.3"/>
<circle cx="1742.1" cy="1508.5" r="5.3"/>
<circle cx="1757.4" cy="1508.5" r="5.3"/>
<circle cx="1772.8" cy="1508.5" r="5.3"/>
<circle cx="1788.1" cy="1508.5" r="5.3"/>
<circle cx="1803.5" cy="1508.5" r="5.3"/>
<circle cx="1818.9" cy="1508.5" r="5.3"/>
<circle cx="1834.2" cy="1508.5" r="5.3"/>
<circle cx="1849.6" cy="1508.5" r="5.3"/>
<circle cx="1865.0" cy="1508.5" r="5.3"/>
<circle cx="1880.3" cy="1508.5" r="5.3"/>
<circle cx="1895.7" cy="1508.5" r="5.3"/>
<circle cx="1911.1" cy="1508.5" r="5.3"/>
<circle cx="1926.4" cy="1508.5" r="5.3"/>
<circle cx="1941.8" cy="1508.5" r="5.3"/>
<circle cx="1957.2" cy="1508.5" r="5.3"/>
<circle cx="1972.5" cy="1508.5" r="5.3"/>
<circle cx="1987.9" cy="1508.5" r="5.3"/>
<circle cx="2003.2" cy="1508.5" r="5.3"/>
<circle cx="2018.6" cy="1508.5" r="5.3"/>
<circle cx="2034.0" cy="1508.5" r="5.3"/>
<circle cx="2049.3" cy="1508.5" r="5.3"/>
<circle cx="2064.7" cy="1508.5" r="5.3"/>
</g>
<g clip-path="url(#ax)" fill="none" stroke-linejoin="round">
<path d="M221.0,1508.0L360.0,1508.0L362.0,1507.9L364.0,1507.7L366.0,1507.6L368.0,1507.5L370.0,1507.3L372.0,1507.2L374.0,1507.0L376.0,1506.8L378.0,1506.6L380.0,1506.5L382.0,1506.3L384.0,1506.1L386.0,1505.9L388.0,1505.7L389.9,1505.5L391.9,1505.3L393.9,1505.0L395.9,1504.8L397.9,1504.6L399.9,1504.3L401.9,1504.1L403.8,1503.9L405.8,1503.6L407.8,1503.3L409.8,1503.1L411.8,1502.8L413.7,1502.5L415.7,1502.3L417.7,1502.0L419.7,1501.7L421.6,1501.4L423.6,1501.1L425.6,1500.8L427.6,1500.5L429.5,1500.2L431.5,1499.9L433.5,1499.5L435.4,1499.2L437.4,1498.9L439.4,1498.6L441.3,1498.2L443.3,1497.9L445.3,1497.5L447.2,1497.2L449.2,1496.8L451.2,1496.5L453.1,1496.1L455.1,1495.7L457.0,1495.4L459.0,1495.0L461.0,1494.6L462.9,1494.2L464.9,1493.8L466.8,1493.5L468.8,1493.1L470.7,1492.7L472.7,1492.3L474.7,1491.9L476.6,1491.4L478.6,1491.0L480.5,1490.6L482.5,1490.2L484.4,1489.8L486.4,1489.4L488.3,1488.9L490.3,1488.5L492.2,1488.1L494.2,1487.6L496.1,1487.2L498.1,1486.7L500.0,1486.3L502.0,1485.9L503.9,1485.4L505.9,1485.0L507.8,1484.5L509.7,1484.0L511.7,1483.6L513.6,1483.1L515.6,1482.6L517.5,1482.2L519.5,1481.7L521.4,1481.2L523.4,1480.8L525.3,1480.3L527.2,1479.8L529.2,1479.3L531.1,1478.8L533.1,1478.4L535.0,1477.9L536.9,1477.4L538.9,1476.9L540.8,1476.4L542.8,1475.9L544.7,1475.4L546.6,1474.9L548.6,1474.4L550.5,1473.9L552.5,1473.4L554.4,1472.9L556.3,1472.4L558.3,1471.9L560.2,1471.4L562.1,1470.9L564.1,1470.4L566.0,1469.9L568.0,1469.3L569.9,1468.8L571.8,1468.3L573.8,1467.8L575.7,1467.3L577.6,1466.8L579.6,1466.3L581.5,1465.7L583.4,1465.2L585.4,1464.7L587.3,1464.2L589.2,1463.7L591.2,1463.1L593.1,1462.6L595.1,1462.1L597.0,1461.6L598.9,1461.0L600.9,1460.5L602.8,1460.0L604.7,1459.5L606.7,1458.9L608.6,1458.4L610.5,1457.9L612.5,1457.3L614.4,1456.8L616.3,1456.3L618.2,1455.7L620.2,1455.2L622.1,1454.6L624.0,1454.1L626.0,1453.6L627.9,1453.0L629.8,1452.5L631.7,1451.9L633.7,1451.4L635.6,1450.8L637.5,1450.3L639.5,1449.7L641.4,1449.2L643.3,1448.6L645.2,1448.0L647.1,1447.5L649.1,1446.9L651.0,1446.3L652.9,1445.8L654.8,1445.2L656.7,1444.6L658.7,1444.1L660.6,1443.5L662.5,1442.9L664.4,1442.3L666.3,1441.7L668.2,1441.2L670.1,1440.6L672.1,1440.0L674.0,1439.4L675.9,1438.8L677.8,1438.2L679.7,1437.6L681.6,1437.0L683.5,1436.4L685.4,1435.8L687.3,1435.2L689.2,1434.5L691.1,1433.9L693.0,1433.3L694.9,1432.7L696.8,1432.0L698.7,1431.4L700.6,1430.8L702.5,1430.1L704.4,1429.5L706.3,1428.9L708.2,1428.2L710.0,1427.6L711.9,1426.9L713.8,1426.3L715.7,1425.6L717.6,1424.9L719.5,1424.3L721.3,1423.6L723.2,1422.9L725.1,1422.3L727.0,1421.6L728.8,1420.9L730.7,1420.2L732.6,1419.5L734.4,1418.8L736.3,1418.1L738.2,1417.4L740.0,1416.7L741.9,1416.0L743.8,1415.3L745.6,1414.6L747.5,1413.9L749.3,1413.1L751.2,1412.4L753.0,1411.7L754.9,1410.9L756.7,1410.2L758.6,1409.4L760.4,1408.7L762.3,1407.9L764.1,1407.2L765.9,1406.4L767.8,1405.6L769.6,1404.9L771.4,1404.1L773.3,1403.3L775.1,1402.5L776.9,1401.7L778.8,1400.9L780.6,1400.1L782.4,1399.3L784.2,1398.5L786.0,1397.7L787.8,1396.9L789.7,1396.1L791.5,1395.2L793.3,1394.4L795.1,1393.5L796.9,1392.7L798.7,1391.9L800.5,1391.0L802.3,1390.1L804.1,1389.3L805.9,1388.4L807.7,1387.5L809.4,1386.6L811.2,1385.8L813.0,1384.9L814.8,1384.0L816.6,1383.1L818.3,1382.2L820.1,1381.3L821.9,1380.4L823.7,1379.4L825.4,1378.5L827.2,1377.6L828.9,1376.7L830.7,1375.7L832.5,1374.8L834.2,1373.8L836.0,1372.9L837.7,1371.9L839.5,1371.0L841.2,1370.0L843.0,1369.0L844.7,1368.1L846.4,1367.1L848.2,1366.1L849.9,1365.1L851.6,1364.1L853.4,1363.1L855.1,1362.1L856.8,1361.1L858.5,1360.1L860.3,1359.1L862.0,1358.1L863.7,1357.0L865.4,1356.0L867.1,1355.0L868.8,1353.9L870.5,1352.9L872.2,1351.9L873.9,1350.8L875.6,1349.8L877.3,1348.7L879.0,1347.6L880.7,1346.6L882.4,1345.5L884.1,1344.4L885.8,1343.3L887.5,1342.3L889.1,1341.2L890.8,1340.1L892.5,1339.0L894.2,1337.9L895.8,1336.8L897.5,1335.7L899.2,1334.6L900.8,1333.5L902.5,1332.3L904.2,1331.2L905.8,1330.1L907.5,1328.9L909.1,1327.8L910.8,1326.7L912.4,1325.5L914.0,1324.4L915.7,1323.2L917.3,1322.1L919.0,1320.9L920.6,1319.8L922.2,1318.6L923.8,1317.4L925.5,1316.2L927.1,1315.1L928.7,1313.9L930.3,1312.7L931.9,1311.5L933.6,1310.3L935.2,1309.1L936.8,1307.9L938.4,1306.7L940.0,1305.5L941.6,1304.3L943.2,1303.1L944.8,1301.9L946.4,1300.6L948.0,1299.4L949.5,1298.2L951.1,1297.0L952.7,1295.7L954.3,1294.5L955.9,1293.2L957.4,1292.0L959.0,1290.7L960.6,1289.5L962.1,1288.2L963.7,1287.0L965.3,1285.7L966.8,1284.4L968.4,1283.2L969.9,1281.9L971.5,1280.6L973.0,1279.3L974.6,1278.0L976.1,1276.8L977.7,1275.5L979.2,1274.2L980.7,1272.9L982.3,1271.6L983.8,1270.3L985.3,1269.0L986.8,1267.7L988.4,1266.3L989.9,1265.0L991.4,1263.7L992.9,1262.4L994.4,1261.1L995.9,1259.7L997.4,1258.4L998.9,1257.1L1000.4,1255.7L1001.9,1254.4L1003.4,1253.0L1004.9,1251.7L1006.4,1250.4L1007.9,1249.0L1009.4,1247.6L1010.8,1246.3L1012.3,1244.9L1013.8,1243.6L1015.3,1242.2L1016.7,1240.8L1018.2,1239.5L1019.7,1238.1L1021.1,1236.7L1022.6,1235.3L1024.0,1233.9L1025.5,1232.5L1026.9,1231.2L1028.4,1229.8L1029.8,1228.4L1031.3,1227.0L1032.7,1225.6L1034.1,1224.2L1035.6,1222.8L1037.0,1221.4L1038.4,1219.9L1039.9,1218.5L1041.3,1217.1L1042.7,1215.7L1044.1,1214.3L1045.5,1212.9L1046.9,1211.4L1048.3,1210.0L1049.8,1208.6L1051.2,1207.1L1052.6,1205.7L1054.0,1204.3L1055.4,1202.8L1056.8,1201.4L1058.1,1200.0L1059.5,1198.5L1060.9,1197.1L1062.3,1195.6L1063.7,1194.2L1065.1,1192.7L1066.5,1191.3L1067.9,1189.9L1069.3,1188.4L1070.6,1187.0L1072.0,1185.5L1073.4,1184.1L1074.8,1182.6L1076.2,1181.2L1077.6,1179.7L1078.9,1178.3L1080.3,1176.8L1081.7,1175.4L1083.1,1173.9L1084.5,1172.5L1085.8,1171.0L1087.2,1169.6L1088.6,1168.1L1090.0,1166.7L1091.4,1165.3L1092.8,1163.8L1094.2,1162.4L1095.6,1160.9L1096.9,1159.5L1098.3,1158.1L1099.7,1156.6L1101.1,1155.2L1102.5,1153.8L1103.9,1152.3L1105.3,1150.9L1106.7,1149.5L1108.1,1148.1L1109.5,1146.7L1110.9,1145.2L1112.4,1143.8L1113.8,1142.4L1115.2,1141.0L1116.6,1139.6L1118.0,1138.2L1119.5,1136.8L1120.9,1135.4L1122.3,1134.0L1123.7,1132.6L1125.2,1131.2L1126.6,1129.9L1128.1,1128.5L1129.5,1127.1L1131.0,1125.7L1132.4,1124.4L1133.9,1123.0L1135.4,1121.7L1136.8,1120.3L1138.3,1119.0L1139.8,1117.6L1141.3,1116.3L1142.8,1114.9L1144.2,1113.6L1145.7,1112.3L1147.2,1111.0L1148.8,1109.7L1150.3,1108.4L1151.8,1107.1L1153.3,1105.8L1154.8,1104.5L1156.4,1103.2L1157.9,1101.9L1159.5,1100.6L1161.0,1099.4L1162.6,1098.1L1164.1,1096.8L1165.7,1095.6L1167.3,1094.4L1168.9,1093.1L1170.5,1091.9L1172.1,1090.7L1173.7,1089.5L1175.3,1088.3L1176.9,1087.1L1178.5,1085.9L1180.1,1084.7L1181.8,1083.5L1183.4,1082.3L1185.1,1081.2L1186.7,1080.0L1188.4,1078.9L1190.1,1077.7L1191.8,1076.6L1193.5,1075.5L1195.2,1074.4L1196.9,1073.2L1198.6,1072.2L1200.3,1071.1L1202.1,1070.0L1203.8,1068.9L1205.6,1067.9L1207.3,1066.8L1209.1,1065.8L1210.9,1064.8L1212.7,1063.8L1214.4,1062.8L1216.2,1061.8L1218.0,1060.9L1219.8,1060.0L1221.6,1059.1L1223.5,1058.3L1225.3,1057.5L1227.1,1056.7L1228.9,1055.9L1230.7,1055.2L1232.6,1054.5L1234.4,1053.9L1236.2,1053.3L1238.0,1052.8L1239.9,1052.3L1241.7,1051.8L1243.5,1051.4L1245.4,1051.0L1247.2,1050.7L1249.0,1050.5L1250.8,1050.3L1252.6,1050.2L1254.5,1050.1L1256.3,1050.1L1258.1,1050.2L1259.9,1050.3L1261.7,1050.5L1263.5,1050.7L1265.3,1051.0L1267.1,1051.4L1268.8,1051.8L1270.6,1052.3L1272.4,1052.9L1274.1,1053.4L1275.9,1054.1L1277.6,1054.8L1279.4,1055.5L1281.1,1056.3L1282.8,1057.2L1284.5,1058.0L1286.2,1059.0L1287.9,1059.9L1289.6,1060.9L1291.3,1062.0L1293.0,1063.0L1294.6,1064.2L1296.2,1065.3L1297.9,1066.5L1299.5,1067.7L1301.1,1068.9L1302.7,1070.2L1304.3,1071.5L1305.9,1072.8L1307.4,1074.1L1309.0,1075.5L1310.5,1076.9L1312.0,1078.3L1313.5,1079.7L1315.0,1081.1L1316.5,1082.5L1318.0,1084.0L1319.4,1085.5L1320.8,1086.9L1322.3,1088.4L1323.7,1089.9L1325.1,1091.4L1326.4,1092.9L1327.8,1094.4L1329.1,1096.0L1330.5,1097.5L1331.8,1099.1L1333.1,1100.6L1334.4,1102.2L1335.6,1103.8L1336.9,1105.4L1338.1,1106.9L1339.4,1108.5L1340.6,1110.2L1341.8,1111.8L1343.0,1113.4L1344.2,1115.0L1345.4,1116.7L1346.5,1118.3L1347.7,1120.0L1348.8,1121.7L1349.9,1123.3L1351.0,1125.0L1352.1,1126.7L1353.2,1128.4L1354.3,1130.1L1355.4,1131.8L1356.4,1133.5L1357.5,1135.2L1358.5,1137.0L1359.6,1138.7L1360.6,1140.4L1361.6,1142.2L1362.6,1143.9L1363.6,1145.7L1364.5,1147.4L1365.5,1149.2L1366.5,1151.0L1367.4,1152.8L1368.4,1154.5L1369.3,1156.3L1370.2,1158.1L1371.1,1159.9L1372.0,1161.7L1372.9,1163.5L1373.8,1165.4L1374.7,1167.2L1375.6,1169.0L1376.5,1170.8L1377.3,1172.7L1378.2,1174.5L1379.0,1176.3L1379.9,1178.2L1380.7,1180.0L1381.5,1181.9L1382.4,1183.7L1383.2,1185.6L1384.0,1187.4L1384.8,1189.3L1385.6,1191.2L1386.4,1193.0L1387.2,1194.9L1388.0,1196.8L1388.7,1198.6L1389.5,1200.5L1390.3,1202.4L1391.1,1204.3L1391.8,1206.2L1392.6,1208.0L1393.3,1209.9L1394.1,1211.8L1394.8,1213.7L1395.6,1215.6L1396.3,1217.5L1397.0,1219.4L1397.8,1221.3L1398.5,1223.2L1399.2,1225.1L1399.9,1227.0L1400.6,1228.9L1401.4,1230.8L1402.1,1232.7L1402.8,1234.6L1403.5,1236.5L1404.2,1238.4L1404.9,1240.3L1405.6,1242.2L1406.3,1244.1L1407.0,1246.0L1407.7,1247.9L1408.4,1249.8L1409.1,1251.6L1409.9,1253.5L1410.6,1255.4L1411.3,1257.3L1412.0,1259.2L1412.7,1261.1L1413.4,1263.0L1414.1,1264.9L1414.8,1266.8L1415.5,1268.6L1416.2,1270.5L1416.9,1272.4L1417.6,1274.3L1418.3,1276.2L1419.0,1278.0L1419.7,1279.9L1420.4,1281.8L1421.1,1283.6L1421.9,1285.5L1422.6,1287.3L1423.3,1289.2L1424.0,1291.0L1424.8,1292.9L1425.5,1294.7L1426.2,1296.6L1427.0,1298.4L1427.7,1300.2L1428.4,1302.1L1429.2,1303.9L1429.9,1305.7L1430.7,1307.5L1431.5,1309.3L1432.2,1311.1L1433.0,1312.9L1433.8,1314.7L1434.6,1316.5L1435.3,1318.3L1436.1,1320.1L1436.9,1321.9L1437.7,1323.6L1438.5,1325.4L1439.3,1327.2L1440.2,1328.9L1441.0,1330.7L1441.8,1332.4L1442.6,1334.2L1443.5,1335.9L1444.3,1337.7L1445.1,1339.4L1446.0,1341.1L1446.8,1342.9L1447.7,1344.6L1448.5,1346.3L1449.4,1348.1L1450.2,1349.8L1451.1,1351.5L1451.9,1353.3L1452.8,1355.0L1453.6,1356.7L1454.5,1358.5L1455.3,1360.2L1456.2,1361.9L1457.0,1363.7L1457.9,1365.4L1458.7,1367.2L1459.6,1368.9L1460.4,1370.6L1461.3,1372.4L1462.1,1374.2L1463.0,1375.9L1463.8,1377.7L1464.6,1379.5L1465.5,1381.2L1466.3,1383.0L1467.1,1384.8L1468.0,1386.6L1468.8,1388.4L1469.6,1390.2L1470.4,1392.0L1471.2,1393.8L1472.0,1395.7L1472.8,1397.5L1473.6,1399.3L1474.4,1401.2L1475.2,1403.1L1475.9,1404.9L1476.7,1406.8L1477.5,1408.7L1478.2,1410.6L1479.0,1412.5L1479.7,1414.4L1480.5,1416.3L1481.2,1418.2L1482.0,1420.2L1482.7,1422.1L1483.5,1424.0L1484.2,1425.9L1485.0,1427.9L1485.7,1429.8L1486.5,1431.7L1487.2,1433.7L1488.0,1435.6L1488.8,1437.5L1489.6,1439.4L1490.4,1441.4L1491.2,1443.3L1492.0,1445.2L1492.8,1447.1L1493.6,1449.0L1494.4,1450.9L1495.3,1452.7L1496.2,1454.6L1497.0,1456.5L1497.9,1458.3L1498.8,1460.1L1499.8,1462.0L1500.7,1463.8L1501.7,1465.6L1502.7,1467.4L1503.7,1469.1L1504.7,1470.9L1505.7,1472.6L1506.8,1474.3L1507.8,1476.0L1509.0,1477.7L1510.1,1479.4L1511.2,1481.0L1512.4,1482.6L1513.6,1484.2L1514.9,1485.8L1516.1,1487.3L1517.4,1488.9L1518.7,1490.3L1520.1,1491.8L1521.5,1493.2L1522.9,1494.6L1524.3,1495.9L1525.8,1497.2L1527.3,1498.4L1528.9,1499.6L1530.5,1500.7L1532.1,1501.7L1533.8,1502.7L1535.5,1503.6L1537.3,1504.4L1539.1,1505.2L1540.9,1505.8L1542.8,1506.4L1544.8,1506.9L1546.7,1507.3L1548.8,1507.7L1550.9,1507.9L1553.0,1508.0L2070.0,1508.0" stroke="#f00" stroke-width="8"/>
<path d="M221.0,1508.0L370.0,1508.0L372.0,1507.8L374.0,1507.7L376.0,1507.5L377.9,1507.3L379.9,1507.2L381.9,1507.0L383.9,1506.8L385.9,1506.7L387.9,1506.5L389.8,1506.3L391.8,1506.2L393.8,1506.0L395.8,1505.8L397.8,1505.6L399.8,1505.4L401.8,1505.3L403.8,1505.1L405.7,1504.9L407.7,1504.7L409.7,1504.5L411.7,1504.3L413.7,1504.2L415.7,1504.0L417.7,1503.8L419.6,1503.6L421.6,1503.4L423.6,1503.2L425.6,1503.0L427.6,1502.8L429.6,1502.6L431.6,1502.4L433.6,1502.2L435.5,1502.0L437.5,1501.8L439.5,1501.6L441.5,1501.4L443.5,1501.2L445.5,1501.0L447.5,1500.7L449.5,1500.5L451.4,1500.3L453.4,1500.1L455.4,1499.9L457.4,1499.7L459.4,1499.4L461.4,1499.2L463.4,1499.0L465.4,1498.8L467.3,1498.5L469.3,1498.3L471.3,1498.1L473.3,1497.8L475.3,1497.6L477.3,1497.4L479.3,1497.1L481.2,1496.9L483.2,1496.7L485.2,1496.4L487.2,1496.2L489.2,1495.9L491.2,1495.7L493.2,1495.4L495.1,1495.2L497.1,1494.9L499.1,1494.7L501.1,1494.4L503.1,1494.2L505.1,1493.9L507.0,1493.6L509.0,1493.4L511.0,1493.1L513.0,1492.8L515.0,1492.6L517.0,1492.3L518.9,1492.0L520.9,1491.7L522.9,1491.5L524.9,1491.2L526.9,1490.9L528.9,1490.6L530.8,1490.3L532.8,1490.1L534.8,1489.8L536.8,1489.5L538.8,1489.2L540.7,1488.9L542.7,1488.6L544.7,1488.3L546.7,1488.0L548.7,1487.7L550.6,1487.4L552.6,1487.1L554.6,1486.8L556.6,1486.5L558.5,1486.1L560.5,1485.8L562.5,1485.5L564.5,1485.2L566.5,1484.9L568.4,1484.6L570.4,1484.2L572.4,1483.9L574.3,1483.6L576.3,1483.2L578.3,1482.9L580.3,1482.6L582.2,1482.2L584.2,1481.9L586.2,1481.5L588.2,1481.2L590.1,1480.9L592.1,1480.5L594.1,1480.1L596.0,1479.8L598.0,1479.4L600.0,1479.1L601.9,1478.7L603.9,1478.4L605.9,1478.0L607.8,1477.6L609.8,1477.3L611.8,1476.9L613.7,1476.5L615.7,1476.1L617.7,1475.7L619.6,1475.4L621.6,1475.0L623.6,1474.6L625.5,1474.2L627.5,1473.8L629.4,1473.4L631.4,1473.0L633.4,1472.6L635.3,1472.2L637.3,1471.8L639.2,1471.4L641.2,1471.0L643.2,1470.6L645.1,1470.2L647.1,1469.8L649.0,1469.3L651.0,1468.9L652.9,1468.5L654.9,1468.1L656.8,1467.6L658.8,1467.2L660.7,1466.8L662.7,1466.3L664.6,1465.9L666.6,1465.5L668.5,1465.0L670.5,1464.6L672.4,1464.1L674.4,1463.7L676.3,1463.2L678.3,1462.7L680.2,1462.3L682.2,1461.8L684.1,1461.4L686.0,1460.9L688.0,1460.4L689.9,1459.9L691.9,1459.5L693.8,1459.0L695.8,1458.5L697.7,1458.0L699.6,1457.5L701.6,1457.0L703.5,1456.5L705.4,1456.0L707.4,1455.5L709.3,1455.0L711.2,1454.5L713.2,1454.0L715.1,1453.5L717.0,1453.0L719.0,1452.5L720.9,1452.0L722.8,1451.4L724.7,1450.9L726.7,1450.4L728.6,1449.8L730.5,1449.3L732.4,1448.8L734.4,1448.2L736.3,1447.7L738.2,1447.1L740.1,1446.6L742.1,1446.0L744.0,1445.5L745.9,1444.9L747.8,1444.4L749.7,1443.8L751.6,1443.2L753.6,1442.7L755.5,1442.1L757.4,1441.5L759.3,1440.9L761.2,1440.3L763.1,1439.8L765.0,1439.2L766.9,1438.6L768.8,1438.0L770.7,1437.4L772.6,1436.8L774.5,1436.2L776.4,1435.6L778.4,1434.9L780.3,1434.3L782.2,1433.7L784.1,1433.1L785.9,1432.5L787.8,1431.8L789.7,1431.2L791.6,1430.6L793.5,1429.9L795.4,1429.3L797.3,1428.6L799.2,1428.0L801.1,1427.3L803.0,1426.7L804.9,1426.0L806.8,1425.4L808.6,1424.7L810.5,1424.0L812.4,1423.4L814.3,1422.7L816.2,1422.0L818.1,1421.3L819.9,1420.6L821.8,1420.0L823.7,1419.3L825.6,1418.6L827.4,1417.9L829.3,1417.2L831.2,1416.5L833.0,1415.8L834.9,1415.0L836.8,1414.3L838.6,1413.6L840.5,1412.9L842.4,1412.2L844.2,1411.4L846.1,1410.7L848.0,1410.0L849.8,1409.2L851.7,1408.5L853.5,1407.7L855.4,1407.0L857.2,1406.2L859.1,1405.5L860.9,1404.7L862.8,1404.0L864.6,1403.2L866.5,1402.4L868.3,1401.7L870.2,1400.9L872.0,1400.1L873.9,1399.3L875.7,1398.6L877.5,1397.8L879.4,1397.0L881.2,1396.2L883.0,1395.4L884.9,1394.6L886.7,1393.8L888.5,1393.0L890.4,1392.2L892.2,1391.3L894.0,1390.5L895.8,1389.7L897.7,1388.9L899.5,1388.0L901.3,1387.2L903.1,1386.4L904.9,1385.5L906.8,1384.7L908.6,1383.9L910.4,1383.0L912.2,1382.1L914.0,1381.3L915.8,1380.4L917.6,1379.6L919.4,1378.7L921.2,1377.8L923.0,1377.0L924.8,1376.1L926.6,1375.2L928.4,1374.3L930.2,1373.4L932.0,1372.6L933.8,1371.7L935.6,1370.8L937.3,1369.9L939.1,1369.0L940.9,1368.1L942.7,1367.1L944.5,1366.2L946.2,1365.3L948.0,1364.4L949.8,1363.5L951.6,1362.5L953.3,1361.6L955.1,1360.7L956.9,1359.7L958.6,1358.8L960.4,1357.9L962.2,1356.9L963.9,1356.0L965.7,1355.0L967.4,1354.0L969.2,1353.1L970.9,1352.1L972.7,1351.2L974.4,1350.2L976.2,1349.2L977.9,1348.2L979.7,1347.3L981.4,1346.3L983.1,1345.3L984.9,1344.3L986.6,1343.3L988.3,1342.3L990.1,1341.3L991.8,1340.3L993.5,1339.3L995.2,1338.3L997.0,1337.2L998.7,1336.2L1000.4,1335.2L1002.1,1334.2L1003.8,1333.2L1005.5,1332.1L1007.3,1331.1L1009.0,1330.0L1010.7,1329.0L1012.4,1328.0L1014.1,1326.9L1015.8,1325.8L1017.5,1324.8L1019.2,1323.7L1020.9,1322.7L1022.5,1321.6L1024.2,1320.5L1025.9,1319.5L1027.6,1318.4L1029.3,1317.3L1031.0,1316.2L1032.6,1315.1L1034.3,1314.0L1036.0,1312.9L1037.7,1311.8L1039.3,1310.7L1041.0,1309.6L1042.7,1308.5L1044.3,1307.4L1046.0,1306.3L1047.6,1305.2L1049.3,1304.0L1050.9,1302.9L1052.6,1301.8L1054.2,1300.7L1055.9,1299.5L1057.5,1298.4L1059.2,1297.2L1060.8,1296.1L1062.4,1294.9L1064.1,1293.8L1065.7,1292.6L1067.3,1291.5L1068.9,1290.3L1070.6,1289.1L1072.2,1288.0L1073.8,1286.8L1075.4,1285.6L1077.0,1284.4L1078.7,1283.2L1080.3,1282.1L1081.9,1280.9L1083.5,1279.7L1085.1,1278.5L1086.7,1277.3L1088.3,1276.1L1089.9,1274.9L1091.5,1273.7L1093.1,1272.5L1094.7,1271.3L1096.3,1270.1L1097.9,1268.9L1099.5,1267.7L1101.1,1266.5L1102.7,1265.4L1104.4,1264.2L1106.0,1263.0L1107.6,1261.8L1109.2,1260.6L1110.8,1259.4L1112.4,1258.2L1114.0,1257.0L1115.6,1255.8L1117.2,1254.7L1118.9,1253.5L1120.5,1252.3L1122.1,1251.1L1123.7,1250.0L1125.3,1248.8L1127.0,1247.7L1128.6,1246.5L1130.2,1245.4L1131.9,1244.2L1133.5,1243.1L1135.2,1241.9L1136.8,1240.8L1138.5,1239.7L1140.1,1238.6L1141.8,1237.4L1143.5,1236.3L1145.1,1235.2L1146.8,1234.1L1148.5,1233.0L1150.2,1232.0L1151.9,1230.9L1153.6,1229.8L1155.2,1228.8L1157.0,1227.7L1158.7,1226.7L1160.4,1225.6L1162.1,1224.6L1163.8,1223.6L1165.6,1222.6L1167.3,1221.6L1169.0,1220.6L1170.8,1219.6L1172.6,1218.6L1174.3,1217.7L1176.1,1216.7L1177.9,1215.8L1179.7,1214.8L1181.5,1213.9L1183.3,1213.0L1185.1,1212.1L1186.9,1211.2L1188.7,1210.3L1190.6,1209.5L1192.4,1208.6L1194.3,1207.8L1196.1,1206.9L1198.0,1206.1L1199.9,1205.3L1201.7,1204.5L1203.6,1203.8L1205.5,1203.0L1207.4,1202.3L1209.3,1201.6L1211.2,1200.9L1213.2,1200.2L1215.1,1199.6L1217.0,1198.9L1218.9,1198.3L1220.9,1197.8L1222.8,1197.2L1224.8,1196.7L1226.7,1196.2L1228.7,1195.7L1230.6,1195.3L1232.6,1194.9L1234.5,1194.5L1236.5,1194.2L1238.4,1193.9L1240.4,1193.6L1242.3,1193.4L1244.3,1193.2L1246.3,1193.0L1248.2,1192.9L1250.2,1192.8L1252.1,1192.7L1254.1,1192.7L1256.0,1192.8L1258.0,1192.8L1259.9,1193.0L1261.9,1193.1L1263.8,1193.3L1265.7,1193.6L1267.7,1193.9L1269.6,1194.2L1271.5,1194.6L1273.4,1195.0L1275.3,1195.4L1277.2,1195.9L1279.1,1196.4L1281.0,1197.0L1282.9,1197.6L1284.8,1198.2L1286.6,1198.8L1288.5,1199.5L1290.3,1200.2L1292.2,1201.0L1294.0,1201.7L1295.8,1202.5L1297.6,1203.4L1299.4,1204.2L1301.2,1205.1L1303.0,1206.0L1304.8,1207.0L1306.5,1207.9L1308.3,1208.9L1310.0,1209.9L1311.7,1210.9L1313.4,1212.0L1315.1,1213.0L1316.7,1214.1L1318.4,1215.2L1320.0,1216.4L1321.7,1217.5L1323.3,1218.7L1324.9,1219.8L1326.4,1221.0L1328.0,1222.3L1329.5,1223.5L1331.1,1224.7L1332.6,1226.0L1334.1,1227.3L1335.6,1228.5L1337.1,1229.8L1338.5,1231.2L1340.0,1232.5L1341.4,1233.8L1342.8,1235.2L1344.2,1236.6L1345.6,1238.0L1347.0,1239.4L1348.4,1240.8L1349.7,1242.2L1351.0,1243.7L1352.4,1245.1L1353.7,1246.6L1355.0,1248.1L1356.3,1249.6L1357.6,1251.1L1358.8,1252.6L1360.1,1254.1L1361.4,1255.6L1362.6,1257.2L1363.8,1258.7L1365.0,1260.3L1366.2,1261.9L1367.4,1263.5L1368.6,1265.1L1369.8,1266.7L1371.0,1268.3L1372.1,1269.9L1373.3,1271.6L1374.4,1273.2L1375.5,1274.9L1376.7,1276.5L1377.8,1278.2L1378.9,1279.9L1380.0,1281.6L1381.1,1283.3L1382.1,1285.0L1383.2,1286.7L1384.3,1288.4L1385.3,1290.1L1386.4,1291.8L1387.4,1293.6L1388.5,1295.3L1389.5,1297.0L1390.5,1298.8L1391.6,1300.5L1392.6,1302.3L1393.6,1304.1L1394.6,1305.8L1395.6,1307.6L1396.6,1309.4L1397.6,1311.2L1398.5,1312.9L1399.5,1314.7L1400.5,1316.5L1401.5,1318.3L1402.4,1320.1L1403.4,1321.9L1404.3,1323.7L1405.3,1325.5L1406.2,1327.3L1407.2,1329.1L1408.1,1330.9L1409.1,1332.7L1410.0,1334.6L1410.9,1336.4L1411.9,1338.2L1412.8,1340.0L1413.7,1341.8L1414.7,1343.6L1415.6,1345.4L1416.5,1347.2L1417.4,1349.1L1418.3,1350.9L1419.3,1352.7L1420.2,1354.5L1421.1,1356.3L1422.0,1358.1L1422.9,1359.9L1423.9,1361.7L1424.8,1363.5L1425.7,1365.3L1426.6,1367.1L1427.5,1368.9L1428.4,1370.7L1429.4,1372.5L1430.3,1374.3L1431.2,1376.1L1432.1,1377.9L1433.0,1379.6L1434.0,1381.4L1434.9,1383.2L1435.8,1385.0L1436.8,1386.8L1437.7,1388.5L1438.6,1390.3L1439.6,1392.1L1440.5,1393.8L1441.5,1395.6L1442.4,1397.4L1443.3,1399.1L1444.3,1400.9L1445.3,1402.6L1446.2,1404.4L1447.2,1406.1L1448.1,1407.9L1449.1,1409.6L1450.1,1411.4L1451.1,1413.1L1452.1,1414.8L1453.0,1416.6L1454.0,1418.3L1455.0,1420.0L1456.0,1421.7L1457.0,1423.4L1458.1,1425.1L1459.1,1426.9L1460.1,1428.6L1461.1,1430.3L1462.2,1432.0L1463.2,1433.6L1464.3,1435.3L1465.3,1437.0L1466.4,1438.7L1467.5,1440.4L1468.5,1442.0L1469.6,1443.7L1470.7,1445.4L1471.8,1447.0L1472.9,1448.7L1474.0,1450.3L1475.2,1452.0L1476.3,1453.6L1477.4,1455.2L1478.6,1456.8L1479.7,1458.5L1480.9,1460.1L1482.1,1461.7L1483.3,1463.3L1484.4,1464.9L1485.6,1466.5L1486.9,1468.1L1488.1,1469.7L1489.3,1471.3L1490.5,1472.8L1491.8,1474.4L1493.1,1476.0L1494.3,1477.5L1495.6,1479.1L1496.9,1480.6L1498.2,1482.1L1499.5,1483.7L1500.8,1485.2L1502.2,1486.7L1503.6,1488.2L1504.9,1489.6L1506.3,1491.1L1507.8,1492.5L1509.2,1493.8L1510.7,1495.1L1512.2,1496.4L1513.7,1497.7L1515.3,1498.9L1516.9,1500.0L1518.5,1501.1L1520.2,1502.2L1521.9,1503.1L1523.6,1504.1L1525.4,1504.9L1527.2,1505.7L1529.1,1506.4L1531.0,1507.0L1533.0,1507.5L1535.0,1508.0L2070.0,1508.0" stroke="#0ff" stroke-opacity="0.3" stroke-width="9.5"/>
<path d="M221.0,1508.0L370.0,1508.0L372.0,1507.8L374.0,1507.7L376.0,1507.5L377.9,1507.3L379.9,1507.2L381.9,1507.0L383.9,1506.8L385.9,1506.7L387.9,1506.5L389.8,1506.3L391.8,1506.2L393.8,1506.0L395.8,1505.8L397.8,1505.6L399.8,1505.4L401.8,1505.3L403.8,1505.1L405.7,1504.9L407.7,1504.7L409.7,1504.5L411.7,1504.3L413.7,1504.2L415.7,1504.0L417.7,1503.8L419.6,1503.6L421.6,1503.4L423.6,1503.2L425.6,1503.0L427.6,1502.8L429.6,1502.6L431.6,1502.4L433.6,1502.2L435.5,1502.0L437.5,1501.8L439.5,1501.6L441.5,1501.4L443.5,1501.2L445.5,1501.0L447.5,1500.7L449.5,1500.5L451.4,1500.3L453.4,1500.1L455.4,1499.9L457.4,1499.7L459.4,1499.4L461.4,1499.2L463.4,1499.0L465.4,1498.8L467.3,1498.5L469.3,1498.3L471.3,1498.1L473.3,1497.8L475.3,1497.6L477.3,1497.4L479.3,1497.1L481.2,1496.9L483.2,1496.7L485.2,1496.4L487.2,1496.2L489.2,1495.9L491.2,1495.7L493.2,1495.4L495.1,1495.2L497.1,1494.9L499.1,1494.7L501.1,1494.4L503.1,1494.2L505.1,1493.9L507.0,1493.6L509.0,1493.4L511.0,1493.1L513.0,1492.8L515.0,1492.6L517.0,1492.3L518.9,1492.0L520.9,1491.7L522.9,1491.5L524.9,1491.2L526.9,1490.9L528.9,1490.6L530.8,1490.3L532.8,1490.1L534.8,1489.8L536.8,1489.5L538.8,1489.2L540.7,1488.9L542.7,1488.6L544.7,1488.3L546.7,1488.0L548.7,1487.7L550.6,1487.4L552.6,1487.1L554.6,1486.8L556.6,1486.5L558.5,1486.1L560.5,1485.8L562.5,1485.5L564.5,1485.2L566.5,1484.9L568.4,1484.6L570.4,1484.2L572.4,1483.9L574.3,1483.6L576.3,1483.2L578.3,1482.9L580.3,1482.6L582.2,1482.2L584.2,1481.9L586.2,1481.5L588.2,1481.2L590.1,1480.9L592.1,1480.5L594.1,1480.1L596.0,1479.8L598.0,1479.4L600.0,1479.1L601.9,1478.7L603.9,1478.4L605.9,1478.0L607.8,1477.6L609.8,1477.3L611.8,1476.9L613.7,1476.5L615.7,1476.1L617.7,1475.7L619.6,1475.4L621.6,1475.0L623.6,1474.6L625.5,1474.2L627.5,1473.8L629.4,1473.4L631.4,1473.0L633.4,1472.6L635.3,1472.2L637.3,1471.8L639.2,1471.4L641.2,1471.0L643.2,1470.6L645.1,1470.2L647.1,1469.8L649.0,1469.3L651.0,1468.9L652.9,1468.5L654.9,1468.1L656.8,1467.6L658.8,1467.2L660.7,1466.8L662.7,1466.3L664.6,1465.9L666.6,1465.5L668.5,1465.0L670.5,1464.6L672.4,1464.1L674.4,1463.7L676.3,1463.2L678.3,1462.7L680.2,1462.3L682.2,1461.8L684.1,1461.4L686.0,1460.9L688.0,1460.4L689.9,1459.9L691.9,1459.5L693.8,1459.0L695.8,1458.5L697.7,1458.0L699.6,1457.5L701.6,1457.0L703.5,1456.5L705.4,1456.0L707.4,1455.5L709.3,1455.0L711.2,1454.5L713.2,1454.0L715.1,1453.5L717.0,1453.0L719.0,1452.5L720.9,1452.0L722.8,1451.4L724.7,1450.9L726.7,1450.4L728.6,1449.8L730.5,1449.3L732.4,1448.8L734.4,1448.2L736.3,1447.7L738.2,1447.1L740.1,1446.6L742.1,1446.0L744.0,1445.5L745.9,1444.9L747.8,1444.4L749.7,1443.8L751.6,1443.2L753.6,1442.7L755.5,1442.1L757.4,1441.5L759.3,1440.9L761.2,1440.3L763.1,1439.8L765.0,1439.2L766.9,1438.6L768.8,1438.0L770.7,1437.4L772.6,1436.8L774.5,1436.2L776.4,1435.6L778.4,1434.9L780.3,1434.3L782.2,1433.7L784.1,1433.1L785.9,1432.5L787.8,1431.8L789.7,1431.2L791.6,1430.6L793.5,1429.9L795.4,1429.3L797.3,1428.6L799.2,1428.0L801.1,1427.3L803.0,1426.7L804.9,1426.0L806.8,1425.4L808.6,1424.7L810.5,1424.0L812.4,1423.4L814.3,1422.7L816.2,1422.0L818.1,1421.3L819.9,1420.6L821.8,1420.0L823.7,1419.3L825.6,1418.6L827.4,1417.9L829.3,1417.2L831.2,1416.5L833.0,1415.8L834.9,1415.0L836.8,1414.3L838.6,1413.6L840.5,1412.9L842.4,1412.2L844.2,1411.4L846.1,1410.7L848.0,1410.0L849.8,1409.2L851.7,1408.5L853.5,1407.7L855.4,1407.0L857.2,1406.2L859.1,1405.5L860.9,1404.7L862.8,1404.0L864.6,1403.2L866.5,1402.4L868.3,1401.7L870.2,1400.9L872.0,1400.1L873.9,1399.3L875.7,1398.6L877.5,1397.8L879.4,1397.0L881.2,1396.2L883.0,1395.4L884.9,1394.6L886.7,1393.8L888.5,1393.0L890.4,1392.2L892.2,1391.3L894.0,1390.5L895.8,1389.7L897.7,1388.9L899.5,1388.0L901.3,1387.2L903.1,1386.4L904.9,1385.5L906.8,1384.7L908.6,1383.9L910.4,1383.0L912.2,1382.1L914.0,1381.3L915.8,1380.4L917.6,1379.6L919.4,1378.7L921.2,1377.8L923.0,1377.0L924.8,1376.1L926.6,1375.2L928.4,1374.3L930.2,1373.4L932.0,1372.6L933.8,1371.7L935.6,1370.8L937.3,1369.9L939.1,1369.0L940.9,1368.1L942.7,1367.1L944.5,1366.2L946.2,1365.3L948.0,1364.4L949.8,1363.5L951.6,1362.5L953.3,1361.6L955.1,1360.7L956.9,1359.7L958.6,1358.8L960.4,1357.9L962.2,1356.9L963.9,1356.0L965.7,1355.0L967.4,1354.0L969.2,1353.1L970.9,1352.1L972.7,1351.2L974.4,1350.2L976.2,1349.2L977.9,1348.2L979.7,1347.3L981.4,1346.3L983.1,1345.3L984.9,1344.3L986.6,1343.3L988.3,1342.3L990.1,1341.3L991.8,1340.3L993.5,1339.3L995.2,1338.3L997.0,1337.2L998.7,1336.2L1000.4,1335.2L1002.1,1334.2L1003.8,1333.2L1005.5,1332.1L1007.3,1331.1L1009.0,1330.0L1010.7,1329.0L1012.4,1328.0L1014.1,1326.9L1015.8,1325.8L1017.5,1324.8L1019.2,1323.7L1020.9,1322.7L1022.5,1321.6L1024.2,1320.5L1025.9,1319.5L1027.6,1318.4L1029.3,1317.3L1031.0,1316.2L1032.6,1315.1L1034.3,1314.0L1036.0,1312.9L1037.7,1311.8L1039.3,1310.7L1041.0,1309.6L1042.7,1308.5L1044.3,1307.4L1046.0,1306.3L1047.6,1305.2L1049.3,1304.0L1050.9,1302.9L1052.6,1301.8L1054.2,1300.7L1055.9,1299.5L1057.5,1298.4L1059.2,1297.2L1060.8,1296.1L1062.4,1294.9L1064.1,1293.8L1065.7,1292.6L1067.3,1291.5L1068.9,1290.3L1070.6,1289.1L1072.2,1288.0L1073.8,1286.8L1075.4,1285.6L1077.0,1284.4L1078.7,1283.2L1080.3,1282.1L1081.9,1280.9L1083.5,1279.7L1085.1,1278.5L1086.7,1277.3L1088.3,1276.1L1089.9,1274.9L1091.5,1273.7L1093.1,1272.5L1094.7,1271.3L1096.3,1270.1L1097.9,1268.9L1099.5,1267.7L1101.1,1266.5L1102.7,1265.4L1104.4,1264.2L1106.0,1263.0L1107.6,1261.8L1109.2,1260.6L1110.8,1259.4L1112.4,1258.2L1114.0,1257.0L1115.6,1255.8L1117.2,1254.7L1118.9,1253.5L1120.5,1252.3L1122.1,1251.1L1123.7,1250.0L1125.3,1248.8L1127.0,1247.7L1128.6,1246.5L1130.2,1245.4L1131.9,1244.2L1133.5,1243.1L1135.2,1241.9L1136.8,1240.8L1138.5,1239.7L1140.1,1238.6L1141.8,1237.4L1143.5,1236.3L1145.1,1235.2L1146.8,1234.1L1148.5,1233.0L1150.2,1232.0L1151.9,1230.9L1153.6,1229.8L1155.2,1228.8L1157.0,1227.7L1158.7,1226.7L1160.4,1225.6L1162.1,1224.6L1163.8,1223.6L1165.6,1222.6L1167.3,1221.6L1169.0,1220.6L1170.8,1219.6L1172.6,1218.6L1174.3,1217.7L1176.1,1216.7L1177.9,1215.8L1179.7,1214.8L1181.5,1213.9L1183.3,1213.0L1185.1,1212.1L1186.9,1211.2L1188.7,1210.3L1190.6,1209.5L1192.4,1208.6L1194.3,1207.8L1196.1,1206.9L1198.0,1206.1L1199.9,1205.3L1201.7,1204.5L1203.6,1203.8L1205.5,1203.0L1207.4,1202.3L1209.3,1201.6L1211.2,1200.9L1213.2,1200.2L1215.1,1199.6L1217.0,1198.9L1218.9,1198.3L1220.9,1197.8L1222.8,1197.2L1224.8,1196.7L1226.7,1196.2L1228.7,1195.7L1230.6,1195.3L1232.6,1194.9L1234.5,1194.5L1236.5,1194.2L1238.4,1193.9L1240.4,1193.6L1242.3,1193.4L1244.3,1193.2L1246.3,1193.0L1248.2,1192.9L1250.2,1192.8L1252.1,1192.7L1254.1,1192.7L1256.0,1192.8L1258.0,1192.8L1259.9,1193.0L1261.9,1193.1L1263.8,1193.3L1265.7,1193.6L1267.7,1193.9L1269.6,1194.2L1271.5,1194.6L1273.4,1195.0L1275.3,1195.4L1277.2,1195.9L1279.1,1196.4L1281.0,1197.0L1282.9,1197.6L1284.8,1198.2L1286.6,1198.8L1288.5,1199.5L1290.3,1200.2L1292.2,1201.0L1294.0,1201.7L1295.8,1202.5L1297.6,1203.4L1299.4,1204.2L1301.2,1205.1L1303.0,1206.0L1304.8,1207.0L1306.5,1207.9L1308.3,1208.9L1310.0,1209.9L1311.7,1210.9L1313.4,1212.0L1315.1,1213.0L1316.7,1214.1L1318.4,1215.2L1320.0,1216.4L1321.7,1217.5L1323.3,1218.7L1324.9,1219.8L1326.4,1221.0L1328.0,1222.3L1329.5,1223.5L1331.1,1224.7L1332.6,1226.0L1334.1,1227.3L1335.6,1228.5L1337.1,1229.8L1338.5,1231.2L1340.0,1232.5L1341.4,1233.8L1342.8,1235.2L1344.2,1236.6L1345.6,1238.0L1347.0,1239.4L1348.4,1240.8L1349.7,1242.2L1351.0,1243.7L1352.4,1245.1L1353.7,1246.6L1355.0,1248.1L1356.3,1249.6L1357.6,1251.1L1358.8,1252.6L1360.1,1254.1L1361.4,1255.6L1362.6,1257.2L1363.8,1258.7L1365.0,1260.3L1366.2,1261.9L1367.4,1263.5L1368.6,1265.1L1369.8,1266.7L1371.0,1268.3L1372.1,1269.9L1373.3,1271.6L1374.4,1273.2L1375.5,1274.9L1376.7,1276.5L1377.8,1278.2L1378.9,1279.9L1380.0,1281.6L1381.1,1283.3L1382.1,1285.0L1383.2,1286.7L1384.3,1288.4L1385.3,1290.1L1386.4,1291.8L1387.4,1293.6L1388.5,1295.3L1389.5,1297.0L1390.5,1298.8L1391.6,1300.5L1392.6,1302.3L1393.6,1304.1L1394.6,1305.8L1395.6,1307.6L1396.6,1309.4L1397.6,1311.2L1398.5,1312.9L1399.5,1314.7L1400.5,1316.5L1401.5,1318.3L1402.4,1320.1L1403.4,1321.9L1404.3,1323.7L1405.3,1325.5L1406.2,1327.3L1407.2,1329.1L1408.1,1330.9L1409.1,1332.7L1410.0,1334.6L1410.9,1336.4L1411.9,1338.2L1412.8,1340.0L1413.7,1341.8L1414.7,1343.6L1415.6,1345.4L1416.5,1347.2L1417.4,1349.1L1418.3,1350.9L1419.3,1352.7L1420.2,1354.5L1421.1,1356.3L1422.0,1358.1L1422.9,1359.9L1423.9,1361.7L1424.8,1363.5L1425.7,1365.3L1426.6,1367.1L1427.5,1368.9L1428.4,1370.7L1429.4,1372.5L1430.3,1374.3L1431.2,1376.1L1432.1,1377.9L1433.0,1379.6L1434.0,1381.4L1434.9,1383.2L1435.8,1385.0L1436.8,1386.8L1437.7,1388.5L1438.6,1390.3L1439.6,1392.1L1440.5,1393.8L1441.5,1395.6L1442.4,1397.4L1443.3,1399.1L1444.3,1400.9L1445.3,1402.6L1446.2,1404.4L1447.2,1406.1L1448.1,1407.9L1449.1,1409.6L1450.1,1411.4L1451.1,1413.1L1452.1,1414.8L1453.0,1416.6L1454.0,1418.3L1455.0,1420.0L1456.0,1421.7L1457.0,1423.4L1458.1,1425.1L1459.1,1426.9L1460.1,1428.6L1461.1,1430.3L1462.2,1432.0L1463.2,1433.6L1464.3,1435.3L1465.3,1437.0L1466.4,1438.7L1467.5,1440.4L1468.5,1442.0L1469.6,1443.7L1470.7,1445.4L1471.8,1447.0L1472.9,1448.7L1474.0,1450.3L1475.2,1452.0L1476.3,1453.6L1477.4,1455.2L1478.6,1456.8L1479.7,1458.5L1480.9,1460.1L1482.1,1461.7L1483.3,1463.3L1484.4,1464.9L1485.6,1466.5L1486.9,1468.1L1488.1,1469.7L1489.3,1471.3L1490.5,1472.8L1491.8,1474.4L1493.1,1476.0L1494.3,1477.5L1495.6,1479.1L1496.9,1480.6L1498.2,1482.1L1499.5,1483.7L1500.8,1485.2L1502.2,1486.7L1503.6,1488.2L1504.9,1489.6L1506.3,1491.1L1507.8,1492.5L1509.2,1493.8L1510.7,1495.1L1512.2,1496.4L1513.7,1497.7L1515.3,1498.9L1516.9,1500.0L1518.5,1501.1L1520.2,1502.2L1521.9,1503.1L1523.6,1504.1L1525.4,1504.9L1527.2,1505.7L1529.1,1506.4L1531.0,1507.0L1533.0,1507.5L1535.0,1508.0L2070.0,1508.0" stroke="#0ff" stroke-width="9" stroke-dasharray="7.5 4.5"/>
<path d="M221.0,1508.0L400.0,1508.0L402.0,1507.9L404.0,1507.8L406.0,1507.8L408.0,1507.7L410.0,1507.6L412.0,1507.5L414.0,1507.4L416.0,1507.3L418.0,1507.2L420.0,1507.2L422.0,1507.1L424.0,1507.0L426.0,1506.9L428.0,1506.8L430.0,1506.7L432.0,1506.6L434.0,1506.5L436.0,1506.4L438.0,1506.3L440.0,1506.2L442.0,1506.1L444.0,1506.0L446.0,1505.9L448.0,1505.8L450.0,1505.7L452.0,1505.5L454.0,1505.4L456.0,1505.3L458.0,1505.2L460.0,1505.1L462.0,1505.0L464.0,1504.9L466.0,1504.7L468.0,1504.6L470.0,1504.5L472.0,1504.4L474.0,1504.3L475.9,1504.1L477.9,1504.0L479.9,1503.9L481.9,1503.7L483.9,1503.6L485.9,1503.5L487.9,1503.4L489.9,1503.2L491.9,1503.1L493.9,1502.9L495.9,1502.8L497.9,1502.7L499.9,1502.5L501.8,1502.4L503.8,1502.2L505.8,1502.1L507.8,1502.0L509.8,1501.8L511.8,1501.7L513.8,1501.5L515.8,1501.4L517.8,1501.2L519.8,1501.1L521.7,1500.9L523.7,1500.8L525.7,1500.6L527.7,1500.4L529.7,1500.3L531.7,1500.1L533.7,1500.0L535.7,1499.8L537.7,1499.6L539.6,1499.5L541.6,1499.3L543.6,1499.1L545.6,1499.0L547.6,1498.8L549.6,1498.6L551.6,1498.5L553.5,1498.3L555.5,1498.1L557.5,1497.9L559.5,1497.8L561.5,1497.6L563.5,1497.4L565.5,1497.2L567.4,1497.0L569.4,1496.9L571.4,1496.7L573.4,1496.5L575.4,1496.3L577.4,1496.1L579.3,1495.9L581.3,1495.7L583.3,1495.5L585.3,1495.3L587.3,1495.1L589.3,1495.0L591.2,1494.8L593.2,1494.6L595.2,1494.4L597.2,1494.2L599.2,1494.0L601.2,1493.8L603.1,1493.5L605.1,1493.3L607.1,1493.1L609.1,1492.9L611.1,1492.7L613.1,1492.5L615.0,1492.3L617.0,1492.1L619.0,1491.9L621.0,1491.6L623.0,1491.4L624.9,1491.2L626.9,1491.0L628.9,1490.8L630.9,1490.6L632.9,1490.3L634.8,1490.1L636.8,1489.9L638.8,1489.7L640.8,1489.4L642.8,1489.2L644.7,1489.0L646.7,1488.7L648.7,1488.5L650.7,1488.3L652.7,1488.0L654.6,1487.8L656.6,1487.6L658.6,1487.3L660.6,1487.1L662.6,1486.8L664.5,1486.6L666.5,1486.3L668.5,1486.1L670.5,1485.9L672.4,1485.6L674.4,1485.4L676.4,1485.1L678.4,1484.9L680.4,1484.6L682.3,1484.3L684.3,1484.1L686.3,1483.8L688.3,1483.6L690.2,1483.3L692.2,1483.1L694.2,1482.8L696.2,1482.5L698.2,1482.3L700.1,1482.0L702.1,1481.7L704.1,1481.5L706.1,1481.2L708.0,1480.9L710.0,1480.7L712.0,1480.4L714.0,1480.1L716.0,1479.8L717.9,1479.6L719.9,1479.3L721.9,1479.0L723.9,1478.7L725.8,1478.4L727.8,1478.2L729.8,1477.9L731.8,1477.6L733.7,1477.3L735.7,1477.0L737.7,1476.7L739.7,1476.4L741.6,1476.1L743.6,1475.8L745.6,1475.6L747.6,1475.3L749.6,1475.0L751.5,1474.7L753.5,1474.4L755.5,1474.1L757.5,1473.8L759.4,1473.5L761.4,1473.2L763.4,1472.8L765.4,1472.5L767.3,1472.2L769.3,1471.9L771.3,1471.6L773.3,1471.3L775.2,1471.0L777.2,1470.7L779.2,1470.4L781.2,1470.0L783.1,1469.7L785.1,1469.4L787.1,1469.1L789.1,1468.8L791.1,1468.4L793.0,1468.1L795.0,1467.8L797.0,1467.5L799.0,1467.1L800.9,1466.8L802.9,1466.5L804.9,1466.2L806.9,1465.8L808.8,1465.5L810.8,1465.1L812.8,1464.8L814.8,1464.5L816.7,1464.1L818.7,1463.8L820.7,1463.4L822.7,1463.1L824.6,1462.8L826.6,1462.4L828.6,1462.1L830.6,1461.7L832.5,1461.3L834.5,1461.0L836.5,1460.6L838.4,1460.3L840.4,1459.9L842.4,1459.5L844.4,1459.2L846.3,1458.8L848.3,1458.4L850.3,1458.1L852.2,1457.7L854.2,1457.3L856.2,1456.9L858.2,1456.6L860.1,1456.2L862.1,1455.8L864.1,1455.4L866.0,1455.0L868.0,1454.6L870.0,1454.2L871.9,1453.9L873.9,1453.5L875.8,1453.1L877.8,1452.7L879.8,1452.3L881.7,1451.8L883.7,1451.4L885.7,1451.0L887.6,1450.6L889.6,1450.2L891.5,1449.8L893.5,1449.4L895.5,1448.9L897.4,1448.5L899.4,1448.1L901.3,1447.6L903.3,1447.2L905.2,1446.8L907.2,1446.3L909.1,1445.9L911.1,1445.4L913.0,1445.0L915.0,1444.5L916.9,1444.1L918.9,1443.6L920.8,1443.2L922.8,1442.7L924.7,1442.2L926.7,1441.8L928.6,1441.3L930.5,1440.8L932.5,1440.3L934.4,1439.8L936.4,1439.4L938.3,1438.9L940.2,1438.4L942.2,1437.9L944.1,1437.4L946.0,1436.9L948.0,1436.4L949.9,1435.9L951.8,1435.4L953.7,1434.8L955.7,1434.3L957.6,1433.8L959.5,1433.3L961.4,1432.7L963.4,1432.2L965.3,1431.7L967.2,1431.1L969.1,1430.6L971.0,1430.0L973.0,1429.5L974.9,1428.9L976.8,1428.4L978.7,1427.8L980.6,1427.3L982.5,1426.7L984.4,1426.1L986.3,1425.5L988.2,1424.9L990.1,1424.4L992.0,1423.8L993.9,1423.2L995.8,1422.6L997.7,1422.0L999.6,1421.4L1001.5,1420.8L1003.4,1420.2L1005.3,1419.5L1007.2,1418.9L1009.1,1418.3L1011.0,1417.7L1012.9,1417.0L1014.7,1416.4L1016.6,1415.7L1018.5,1415.1L1020.4,1414.4L1022.2,1413.8L1024.1,1413.1L1026.0,1412.5L1027.9,1411.8L1029.7,1411.1L1031.6,1410.4L1033.5,1409.8L1035.3,1409.1L1037.2,1408.4L1039.1,1407.7L1040.9,1407.0L1042.8,1406.3L1044.6,1405.6L1046.5,1404.9L1048.4,1404.2L1050.2,1403.5L1052.1,1402.8L1053.9,1402.1L1055.8,1401.3L1057.6,1400.6L1059.5,1399.9L1061.3,1399.2L1063.2,1398.5L1065.0,1397.7L1066.9,1397.0L1068.7,1396.3L1070.6,1395.6L1072.4,1394.8L1074.3,1394.1L1076.2,1393.4L1078.0,1392.6L1079.9,1391.9L1081.7,1391.2L1083.6,1390.4L1085.4,1389.7L1087.3,1389.0L1089.1,1388.3L1091.0,1387.5L1092.8,1386.8L1094.7,1386.1L1096.5,1385.4L1098.4,1384.6L1100.3,1383.9L1102.1,1383.2L1104.0,1382.5L1105.8,1381.8L1107.7,1381.0L1109.6,1380.3L1111.4,1379.6L1113.3,1378.9L1115.2,1378.2L1117.0,1377.5L1118.9,1376.8L1120.8,1376.1L1122.6,1375.4L1124.5,1374.7L1126.4,1374.0L1128.3,1373.3L1130.2,1372.6L1132.0,1372.0L1133.9,1371.3L1135.8,1370.6L1137.7,1370.0L1139.6,1369.3L1141.5,1368.6L1143.4,1368.0L1145.3,1367.3L1147.2,1366.7L1149.1,1366.1L1151.0,1365.4L1152.9,1364.8L1154.8,1364.2L1156.7,1363.6L1158.7,1363.0L1160.6,1362.4L1162.5,1361.8L1164.4,1361.2L1166.4,1360.6L1168.3,1360.0L1170.2,1359.4L1172.2,1358.9L1174.1,1358.3L1176.1,1357.8L1178.0,1357.2L1180.0,1356.7L1181.9,1356.2L1183.9,1355.6L1185.8,1355.1L1187.8,1354.6L1189.8,1354.1L1191.7,1353.7L1193.7,1353.2L1195.7,1352.7L1197.6,1352.3L1199.6,1351.9L1201.6,1351.4L1203.6,1351.0L1205.5,1350.6L1207.5,1350.2L1209.5,1349.8L1211.5,1349.5L1213.5,1349.1L1215.4,1348.8L1217.4,1348.5L1219.4,1348.1L1221.4,1347.9L1223.4,1347.6L1225.4,1347.3L1227.3,1347.1L1229.3,1346.8L1231.3,1346.6L1233.3,1346.4L1235.3,1346.2L1237.2,1346.0L1239.2,1345.9L1241.2,1345.7L1243.2,1345.6L1245.1,1345.5L1247.1,1345.4L1249.1,1345.4L1251.1,1345.3L1253.0,1345.3L1255.0,1345.3L1256.9,1345.3L1258.9,1345.3L1260.9,1345.4L1262.8,1345.5L1264.8,1345.6L1266.7,1345.7L1268.7,1345.8L1270.6,1346.0L1272.6,1346.1L1274.5,1346.3L1276.4,1346.6L1278.4,1346.8L1280.3,1347.1L1282.2,1347.4L1284.1,1347.7L1286.1,1348.1L1288.0,1348.4L1289.9,1348.8L1291.8,1349.2L1293.7,1349.7L1295.6,1350.1L1297.5,1350.6L1299.4,1351.1L1301.3,1351.6L1303.1,1352.2L1305.0,1352.8L1306.9,1353.4L1308.7,1354.0L1310.6,1354.6L1312.5,1355.3L1314.3,1355.9L1316.2,1356.6L1318.0,1357.3L1319.8,1358.1L1321.7,1358.8L1323.5,1359.6L1325.3,1360.4L1327.1,1361.2L1328.9,1362.0L1330.7,1362.9L1332.5,1363.7L1334.3,1364.6L1336.1,1365.5L1337.9,1366.4L1339.7,1367.3L1341.4,1368.3L1343.2,1369.2L1345.0,1370.2L1346.7,1371.2L1348.5,1372.2L1350.2,1373.2L1352.0,1374.3L1353.7,1375.3L1355.4,1376.4L1357.1,1377.4L1358.8,1378.5L1360.5,1379.6L1362.2,1380.7L1363.9,1381.9L1365.6,1383.0L1367.3,1384.2L1369.0,1385.3L1370.6,1386.5L1372.3,1387.7L1374.0,1388.9L1375.6,1390.1L1377.2,1391.3L1378.9,1392.5L1380.5,1393.7L1382.1,1395.0L1383.7,1396.2L1385.3,1397.5L1386.9,1398.8L1388.5,1400.0L1390.1,1401.3L1391.7,1402.6L1393.3,1403.9L1394.8,1405.2L1396.4,1406.6L1397.9,1407.9L1399.5,1409.2L1401.0,1410.5L1402.5,1411.9L1404.0,1413.2L1405.5,1414.6L1407.0,1415.9L1408.5,1417.3L1410.0,1418.6L1411.5,1420.0L1413.0,1421.4L1414.5,1422.8L1415.9,1424.1L1417.4,1425.5L1418.9,1426.9L1420.3,1428.3L1421.8,1429.7L1423.2,1431.1L1424.7,1432.5L1426.1,1433.9L1427.6,1435.2L1429.0,1436.6L1430.4,1438.0L1431.9,1439.4L1433.3,1440.8L1434.7,1442.2L1436.2,1443.6L1437.6,1445.0L1439.0,1446.4L1440.5,1447.8L1441.9,1449.2L1443.3,1450.5L1444.8,1451.9L1446.2,1453.3L1447.6,1454.7L1449.1,1456.1L1450.5,1457.4L1452.0,1458.8L1453.4,1460.2L1454.9,1461.5L1456.3,1462.9L1457.8,1464.2L1459.2,1465.5L1460.7,1466.9L1462.2,1468.2L1463.6,1469.5L1465.1,1470.8L1466.6,1472.2L1468.1,1473.5L1469.6,1474.8L1471.1,1476.0L1472.6,1477.3L1474.1,1478.6L1475.6,1479.9L1477.2,1481.1L1478.7,1482.4L1480.2,1483.6L1481.8,1484.8L1483.4,1486.0L1484.9,1487.2L1486.5,1488.4L1488.1,1489.6L1489.7,1490.8L1491.3,1491.9L1492.9,1493.1L1494.6,1494.2L1496.2,1495.4L1497.9,1496.5L1499.5,1497.5L1501.2,1498.6L1502.9,1499.6L1504.6,1500.6L1506.4,1501.6L1508.1,1502.5L1509.9,1503.4L1511.7,1504.2L1513.5,1505.0L1515.4,1505.7L1517.2,1506.4L1519.1,1507.0L1521.1,1507.5L1523.0,1508.0L2070.0,1508.0" stroke="#000" stroke-opacity="0.16" stroke-width="9"/>
<path d="M221.0,1508.0L400.0,1508.0L402.0,1507.9L404.0,1507.8L406.0,1507.8L408.0,1507.7L410.0,1507.6L412.0,1507.5L414.0,1507.4L416.0,1507.3L418.0,1507.2L420.0,1507.2L422.0,1507.1L424.0,1507.0L426.0,1506.9L428.0,1506.8L430.0,1506.7L432.0,1506.6L434.0,1506.5L436.0,1506.4L438.0,1506.3L440.0,1506.2L442.0,1506.1L444.0,1506.0L446.0,1505.9L448.0,1505.8L450.0,1505.7L452.0,1505.5L454.0,1505.4L456.0,1505.3L458.0,1505.2L460.0,1505.1L462.0,1505.0L464.0,1504.9L466.0,1504.7L468.0,1504.6L470.0,1504.5L472.0,1504.4L474.0,1504.3L475.9,1504.1L477.9,1504.0L479.9,1503.9L481.9,1503.7L483.9,1503.6L485.9,1503.5L487.9,1503.4L489.9,1503.2L491.9,1503.1L493.9,1502.9L495.9,1502.8L497.9,1502.7L499.9,1502.5L501.8,1502.4L503.8,1502.2L505.8,1502.1L507.8,1502.0L509.8,1501.8L511.8,1501.7L513.8,1501.5L515.8,1501.4L517.8,1501.2L519.8,1501.1L521.7,1500.9L523.7,1500.8L525.7,1500.6L527.7,1500.4L529.7,1500.3L531.7,1500.1L533.7,1500.0L535.7,1499.8L537.7,1499.6L539.6,1499.5L541.6,1499.3L543.6,1499.1L545.6,1499.0L547.6,1498.8L549.6,1498.6L551.6,1498.5L553.5,1498.3L555.5,1498.1L557.5,1497.9L559.5,1497.8L561.5,1497.6L563.5,1497.4L565.5,1497.2L567.4,1497.0L569.4,1496.9L571.4,1496.7L573.4,1496.5L575.4,1496.3L577.4,1496.1L579.3,1495.9L581.3,1495.7L583.3,1495.5L585.3,1495.3L587.3,1495.1L589.3,1495.0L591.2,1494.8L593.2,1494.6L595.2,1494.4L597.2,1494.2L599.2,1494.0L601.2,1493.8L603.1,1493.5L605.1,1493.3L607.1,1493.1L609.1,1492.9L611.1,1492.7L613.1,1492.5L615.0,1492.3L617.0,1492.1L619.0,1491.9L621.0,1491.6L623.0,1491.4L624.9,1491.2L626.9,1491.0L628.9,1490.8L630.9,1490.6L632.9,1490.3L634.8,1490.1L636.8,1489.9L638.8,1489.7L640.8,1489.4L642.8,1489.2L644.7,1489.0L646.7,1488.7L648.7,1488.5L650.7,1488.3L652.7,1488.0L654.6,1487.8L656.6,1487.6L658.6,1487.3L660.6,1487.1L662.6,1486.8L664.5,1486.6L666.5,1486.3L668.5,1486.1L670.5,1485.9L672.4,1485.6L674.4,1485.4L676.4,1485.1L678.4,1484.9L680.4,1484.6L682.3,1484.3L684.3,1484.1L686.3,1483.8L688.3,1483.6L690.2,1483.3L692.2,1483.1L694.2,1482.8L696.2,1482.5L698.2,1482.3L700.1,1482.0L702.1,1481.7L704.1,1481.5L706.1,1481.2L708.0,1480.9L710.0,1480.7L712.0,1480.4L714.0,1480.1L716.0,1479.8L717.9,1479.6L719.9,1479.3L721.9,1479.0L723.9,1478.7L725.8,1478.4L727.8,1478.2L729.8,1477.9L731.8,1477.6L733.7,1477.3L735.7,1477.0L737.7,1476.7L739.7,1476.4L741.6,1476.1L743.6,1475.8L745.6,1475.6L747.6,1475.3L749.6,1475.0L751.5,1474.7L753.5,1474.4L755.5,1474.1L757.5,1473.8L759.4,1473.5L761.4,1473.2L763.4,1472.8L765.4,1472.5L767.3,1472.2L769.3,1471.9L771.3,1471.6L773.3,1471.3L775.2,1471.0L777.2,1470.7L779.2,1470.4L781.2,1470.0L783.1,1469.7L785.1,1469.4L787.1,1469.1L789.1,1468.8L791.1,1468.4L793.0,1468.1L795.0,1467.8L797.0,1467.5L799.0,1467.1L800.9,1466.8L802.9,1466.5L804.9,1466.2L806.9,1465.8L808.8,1465.5L810.8,1465.1L812.8,1464.8L814.8,1464.5L816.7,1464.1L818.7,1463.8L820.7,1463.4L822.7,1463.1L824.6,1462.8L826.6,1462.4L828.6,1462.1L830.6,1461.7L832.5,1461.3L834.5,1461.0L836.5,1460.6L838.4,1460.3L840.4,1459.9L842.4,1459.5L844.4,1459.2L846.3,1458.8L848.3,1458.4L850.3,1458.1L852.2,1457.7L854.2,1457.3L856.2,1456.9L858.2,1456.6L860.1,1456.2L862.1,1455.8L864.1,1455.4L866.0,1455.0L868.0,1454.6L870.0,1454.2L871.9,1453.9L873.9,1453.5L875.8,1453.1L877.8,1452.7L879.8,1452.3L881.7,1451.8L883.7,1451.4L885.7,1451.0L887.6,1450.6L889.6,1450.2L891.5,1449.8L893.5,1449.4L895.5,1448.9L897.4,1448.5L899.4,1448.1L901.3,1447.6L903.3,1447.2L905.2,1446.8L907.2,1446.3L909.1,1445.9L911.1,1445.4L913.0,1445.0L915.0,1444.5L916.9,1444.1L918.9,1443.6L920.8,1443.2L922.8,1442.7L924.7,1442.2L926.7,1441.8L928.6,1441.3L930.5,1440.8L932.5,1440.3L934.4,1439.8L936.4,1439.4L938.3,1438.9L940.2,1438.4L942.2,1437.9L944.1,1437.4L946.0,1436.9L948.0,1436.4L949.9,1435.9L951.8,1435.4L953.7,1434.8L955.7,1434.3L957.6,1433.8L959.5,1433.3L961.4,1432.7L963.4,1432.2L965.3,1431.7L967.2,1431.1L969.1,1430.6L971.0,1430.0L973.0,1429.5L974.9,1428.9L976.8,1428.4L978.7,1427.8L980.6,1427.3L982.5,1426.7L984.4,1426.1L986.3,1425.5L988.2,1424.9L990.1,1424.4L992.0,1423.8L993.9,1423.2L995.8,1422.6L997.7,1422.0L999.6,1421.4L1001.5,1420.8L1003.4,1420.2L1005.3,1419.5L1007.2,1418.9L1009.1,1418.3L1011.0,1417.7L1012.9,1417.0L1014.7,1416.4L1016.6,1415.7L1018.5,1415.1L1020.4,1414.4L1022.2,1413.8L1024.1,1413.1L1026.0,1412.5L1027.9,1411.8L1029.7,1411.1L1031.6,1410.4L1033.5,1409.8L1035.3,1409.1L1037.2,1408.4L1039.1,1407.7L1040.9,1407.0L1042.8,1406.3L1044.6,1405.6L1046.5,1404.9L1048.4,1404.2L1050.2,1403.5L1052.1,1402.8L1053.9,1402.1L1055.8,1401.3L1057.6,1400.6L1059.5,1399.9L1061.3,1399.2L1063.2,1398.5L1065.0,1397.7L1066.9,1397.0L1068.7,1396.3L1070.6,1395.6L1072.4,1394.8L1074.3,1394.1L1076.2,1393.4L1078.0,1392.6L1079.9,1391.9L1081.7,1391.2L1083.6,1390.4L1085.4,1389.7L1087.3,1389.0L1089.1,1388.3L1091.0,1387.5L1092.8,1386.8L1094.7,1386.1L1096.5,1385.4L1098.4,1384.6L1100.3,1383.9L1102.1,1383.2L1104.0,1382.5L1105.8,1381.8L1107.7,1381.0L1109.6,1380.3L1111.4,1379.6L1113.3,1378.9L1115.2,1378.2L1117.0,1377.5L1118.9,1376.8L1120.8,1376.1L1122.6,1375.4L1124.5,1374.7L1126.4,1374.0L1128.3,1373.3L1130.2,1372.6L1132.0,1372.0L1133.9,1371.3L1135.8,1370.6L1137.7,1370.0L1139.6,1369.3L1141.5,1368.6L1143.4,1368.0L1145.3,1367.3L1147.2,1366.7L1149.1,1366.1L1151.0,1365.4L1152.9,1364.8L1154.8,1364.2L1156.7,1363.6L1158.7,1363.0L1160.6,1362.4L1162.5,1361.8L1164.4,1361.2L1166.4,1360.6L1168.3,1360.0L1170.2,1359.4L1172.2,1358.9L1174.1,1358.3L1176.1,1357.8L1178.0,1357.2L1180.0,1356.7L1181.9,1356.2L1183.9,1355.6L1185.8,1355.1L1187.8,1354.6L1189.8,1354.1L1191.7,1353.7L1193.7,1353.2L1195.7,1352.7L1197.6,1352.3L1199.6,1351.9L1201.6,1351.4L1203.6,1351.0L1205.5,1350.6L1207.5,1350.2L1209.5,1349.8L1211.5,1349.5L1213.5,1349.1L1215.4,1348.8L1217.4,1348.5L1219.4,1348.1L1221.4,1347.9L1223.4,1347.6L1225.4,1347.3L1227.3,1347.1L1229.3,1346.8L1231.3,1346.6L1233.3,1346.4L1235.3,1346.2L1237.2,1346.0L1239.2,1345.9L1241.2,1345.7L1243.2,1345.6L1245.1,1345.5L1247.1,1345.4L1249.1,1345.4L1251.1,1345.3L1253.0,1345.3L1255.0,1345.3L1256.9,1345.3L1258.9,1345.3L1260.9,1345.4L1262.8,1345.5L1264.8,1345.6L1266.7,1345.7L1268.7,1345.8L1270.6,1346.0L1272.6,1346.1L1274.5,1346.3L1276.4,1346.6L1278.4,1346.8L1280.3,1347.1L1282.2,1347.4L1284.1,1347.7L1286.1,1348.1L1288.0,1348.4L1289.9,1348.8L1291.8,1349.2L1293.7,1349.7L1295.6,1350.1L1297.5,1350.6L1299.4,1351.1L1301.3,1351.6L1303.1,1352.2L1305.0,1352.8L1306.9,1353.4L1308.7,1354.0L1310.6,1354.6L1312.5,1355.3L1314.3,1355.9L1316.2,1356.6L1318.0,1357.3L1319.8,1358.1L1321.7,1358.8L1323.5,1359.6L1325.3,1360.4L1327.1,1361.2L1328.9,1362.0L1330.7,1362.9L1332.5,1363.7L1334.3,1364.6L1336.1,1365.5L1337.9,1366.4L1339.7,1367.3L1341.4,1368.3L1343.2,1369.2L1345.0,1370.2L1346.7,1371.2L1348.5,1372.2L1350.2,1373.2L1352.0,1374.3L1353.7,1375.3L1355.4,1376.4L1357.1,1377.4L1358.8,1378.5L1360.5,1379.6L1362.2,1380.7L1363.9,1381.9L1365.6,1383.0L1367.3,1384.2L1369.0,1385.3L1370.6,1386.5L1372.3,1387.7L1374.0,1388.9L1375.6,1390.1L1377.2,1391.3L1378.9,1392.5L1380.5,1393.7L1382.1,1395.0L1383.7,1396.2L1385.3,1397.5L1386.9,1398.8L1388.5,1400.0L1390.1,1401.3L1391.7,1402.6L1393.3,1403.9L1394.8,1405.2L1396.4,1406.6L1397.9,1407.9L1399.5,1409.2L1401.0,1410.5L1402.5,1411.9L1404.0,1413.2L1405.5,1414.6L1407.0,1415.9L1408.5,1417.3L1410.0,1418.6L1411.5,1420.0L1413.0,1421.4L1414.5,1422.8L1415.9,1424.1L1417.4,1425.5L1418.9,1426.9L1420.3,1428.3L1421.8,1429.7L1423.2,1431.1L1424.7,1432.5L1426.1,1433.9L1427.6,1435.2L1429.0,1436.6L1430.4,1438.0L1431.9,1439.4L1433.3,1440.8L1434.7,1442.2L1436.2,1443.6L1437.6,1445.0L1439.0,1446.4L1440.5,1447.8L1441.9,1449.2L1443.3,1450.5L1444.8,1451.9L1446.2,1453.3L1447.6,1454.7L1449.1,1456.1L1450.5,1457.4L1452.0,1458.8L1453.4,1460.2L1454.9,1461.5L1456.3,1462.9L1457.8,1464.2L1459.2,1465.5L1460.7,1466.9L1462.2,1468.2L1463.6,1469.5L1465.1,1470.8L1466.6,1472.2L1468.1,1473.5L1469.6,1474.8L1471.1,1476.0L1472.6,1477.3L1474.1,1478.6L1475.6,1479.9L1477.2,1481.1L1478.7,1482.4L1480.2,1483.6L1481.8,1484.8L1483.4,1486.0L1484.9,1487.2L1486.5,1488.4L1488.1,1489.6L1489.7,1490.8L1491.3,1491.9L1492.9,1493.1L1494.6,1494.2L1496.2,1495.4L1497.9,1496.5L1499.5,1497.5L1501.2,1498.6L1502.9,1499.6L1504.6,1500.6L1506.4,1501.6L1508.1,1502.5L1509.9,1503.4L1511.7,1504.2L1513.5,1505.0L1515.4,1505.7L1517.2,1506.4L1519.1,1507.0L1521.1,1507.5L1523.0,1508.0L2070.0,1508.0" stroke="#000" stroke-width="6.5" stroke-dasharray="5.4 3.8"/>
</g>
<text class="al" transform="translate(691.2,1699.5) scale(0.962,1)" x="0" y="0">The circumferential coordinate/°</text>
<text class="al" transform="translate(98,1118.6) rotate(-90) scale(0.964,1)" x="0" y="0">Dimensionless pressure</text>
<rect x="1589" y="83" width="448" height="360" fill="#fff"/>
<rect x="1586.3" y="83" width="2.7" height="362.7" fill="#4a4a4a"/>
<rect x="1589" y="83.5" width="2.8" height="357" fill="#aaa"/>
<rect x="1589" y="80" width="450" height="2.8" fill="#909090"/>
<rect x="1586.3" y="82.8" width="452" height="3" fill="#696969"/>
<rect x="1589" y="440.2" width="447" height="2.8" fill="#a5a5a5"/>
<rect x="1589" y="443" width="450" height="2.7" fill="#555"/>
<rect x="2035.9" y="83" width="3.1" height="360" fill="#0a0a0a"/>
<line x1="1622" y1="125.8" x2="1791" y2="125.8" stroke="#00f" stroke-width="8.5"/>
<circle cx="1706.5" cy="195" r="5.3" fill="#f0f"/>
<line x1="1622" y1="264" x2="1791" y2="264" stroke="#f00" stroke-width="8.5"/>
<line x1="1622" y1="331.5" x2="1793" y2="331.5" stroke="#0ff" stroke-opacity="0.3" stroke-width="10"/>
<line x1="1622" y1="331.5" x2="1793" y2="331.5" stroke="#0ff" stroke-width="10" stroke-dasharray="9 4.5"/>
<line x1="1624" y1="400" x2="1792" y2="400" stroke="#000" stroke-opacity="0.45" stroke-width="9.5" stroke-dasharray="17.1 2.9"/>
<line x1="1624" y1="400" x2="1792" y2="400" stroke="#000" stroke-width="9.5" stroke-dasharray="5.7 5.7 5.7 2.9"/>
<text class="lg" x="1809.4" y="145.5">t=0</text>
<text class="lg" x="1809.4" y="214.2">t=4mm</text>
<text class="lg" x="1809.4" y="282.9">t=6mm</text>
<text class="lg" x="1809.4" y="351.6">t=8mm</text>
<text class="lg" x="1809.4" y="420.3">t=10mm</text>
</svg></body></html>
